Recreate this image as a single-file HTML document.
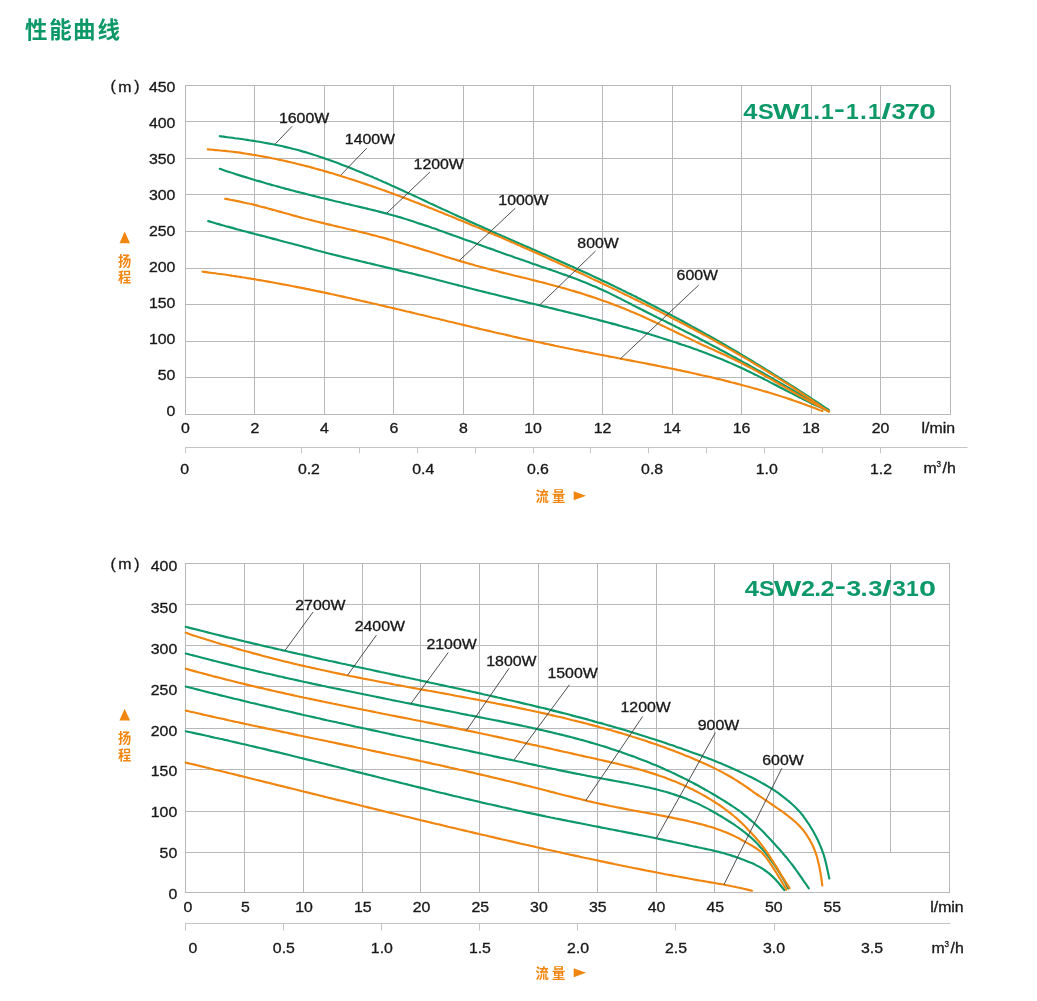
<!DOCTYPE html>
<html><head><meta charset="utf-8"><title>性能曲线</title>
<style>html,body{margin:0;padding:0;background:#fff}svg{display:block}</style></head>
<body>
<svg style="will-change:transform" width="1037" height="1001" viewBox="0 0 1037 1001" font-family='"Liberation Sans", "Noto Sans CJK SC", sans-serif'>
<rect width="1037" height="1001" fill="#fff"/>
<text x="25.1 49.3 72.9 97.4" y="37.5" font-size="22.5" font-weight="bold" fill="#0d9868">性能曲线</text>
<g stroke="#b8b8b8" stroke-width="1" fill="none"><path d="M185.5 85.0V415.0"/><path d="M254.5 85.0V415.0"/><path d="M324.5 85.0V415.0"/><path d="M393.5 85.0V415.0"/><path d="M463.5 85.0V415.0"/><path d="M533.5 85.0V415.0"/><path d="M602.5 85.0V415.0"/><path d="M672.5 85.0V415.0"/><path d="M741.5 85.0V415.0"/><path d="M811.5 85.0V415.0"/><path d="M880.5 85.0V415.0"/><path d="M950.5 85.0V415.0"/><path d="M185.0 85.5H951.0"/><path d="M185.0 121.5H951.0"/><path d="M185.0 158.5H951.0"/><path d="M185.0 194.5H951.0"/><path d="M185.0 231.5H951.0"/><path d="M185.0 268.5H951.0"/><path d="M185.0 304.5H951.0"/><path d="M185.0 341.5H951.0"/><path d="M185.0 377.5H951.0"/><path d="M185.0 414.5H951.0"/></g>
<text transform="translate(175.40 91.90) scale(1.1500 1)" font-size="13.80" text-anchor="end" fill="#181818" stroke="#181818" stroke-width="0.3" font-weight="normal">450</text>
<text transform="translate(175.40 127.95) scale(1.1500 1)" font-size="13.80" text-anchor="end" fill="#181818" stroke="#181818" stroke-width="0.3" font-weight="normal">400</text>
<text transform="translate(175.40 164.00) scale(1.1500 1)" font-size="13.80" text-anchor="end" fill="#181818" stroke="#181818" stroke-width="0.3" font-weight="normal">350</text>
<text transform="translate(175.40 200.05) scale(1.1500 1)" font-size="13.80" text-anchor="end" fill="#181818" stroke="#181818" stroke-width="0.3" font-weight="normal">300</text>
<text transform="translate(175.40 236.10) scale(1.1500 1)" font-size="13.80" text-anchor="end" fill="#181818" stroke="#181818" stroke-width="0.3" font-weight="normal">250</text>
<text transform="translate(175.40 272.15) scale(1.1500 1)" font-size="13.80" text-anchor="end" fill="#181818" stroke="#181818" stroke-width="0.3" font-weight="normal">200</text>
<text transform="translate(175.40 308.20) scale(1.1500 1)" font-size="13.80" text-anchor="end" fill="#181818" stroke="#181818" stroke-width="0.3" font-weight="normal">150</text>
<text transform="translate(175.40 344.25) scale(1.1500 1)" font-size="13.80" text-anchor="end" fill="#181818" stroke="#181818" stroke-width="0.3" font-weight="normal">100</text>
<text transform="translate(175.40 380.30) scale(1.1500 1)" font-size="13.80" text-anchor="end" fill="#181818" stroke="#181818" stroke-width="0.3" font-weight="normal">50</text>
<text transform="translate(175.40 416.35) scale(1.1500 1)" font-size="13.80" text-anchor="end" fill="#181818" stroke="#181818" stroke-width="0.3" font-weight="normal">0</text>
<text transform="translate(110.50 91.20) scale(1.1500 1)" font-size="13.80" text-anchor="start" fill="#181818" stroke="#181818" stroke-width="0.3" font-weight="normal">(</text>
<text transform="translate(118.30 91.50) scale(1.1500 1)" font-size="13.80" text-anchor="start" fill="#181818" stroke="#181818" stroke-width="0.3" font-weight="normal">m</text>
<text transform="translate(134.30 91.20) scale(1.1500 1)" font-size="13.80" text-anchor="start" fill="#181818" stroke="#181818" stroke-width="0.3" font-weight="normal">)</text>
<text transform="translate(185.40 433.00) scale(1.1500 1)" font-size="13.80" text-anchor="middle" fill="#181818" stroke="#181818" stroke-width="0.3" font-weight="normal">0</text>
<text transform="translate(254.92 433.00) scale(1.1500 1)" font-size="13.80" text-anchor="middle" fill="#181818" stroke="#181818" stroke-width="0.3" font-weight="normal">2</text>
<text transform="translate(324.44 433.00) scale(1.1500 1)" font-size="13.80" text-anchor="middle" fill="#181818" stroke="#181818" stroke-width="0.3" font-weight="normal">4</text>
<text transform="translate(393.96 433.00) scale(1.1500 1)" font-size="13.80" text-anchor="middle" fill="#181818" stroke="#181818" stroke-width="0.3" font-weight="normal">6</text>
<text transform="translate(463.48 433.00) scale(1.1500 1)" font-size="13.80" text-anchor="middle" fill="#181818" stroke="#181818" stroke-width="0.3" font-weight="normal">8</text>
<text transform="translate(533.00 433.00) scale(1.1500 1)" font-size="13.80" text-anchor="middle" fill="#181818" stroke="#181818" stroke-width="0.3" font-weight="normal">10</text>
<text transform="translate(602.52 433.00) scale(1.1500 1)" font-size="13.80" text-anchor="middle" fill="#181818" stroke="#181818" stroke-width="0.3" font-weight="normal">12</text>
<text transform="translate(672.04 433.00) scale(1.1500 1)" font-size="13.80" text-anchor="middle" fill="#181818" stroke="#181818" stroke-width="0.3" font-weight="normal">14</text>
<text transform="translate(741.56 433.00) scale(1.1500 1)" font-size="13.80" text-anchor="middle" fill="#181818" stroke="#181818" stroke-width="0.3" font-weight="normal">16</text>
<text transform="translate(811.08 433.00) scale(1.1500 1)" font-size="13.80" text-anchor="middle" fill="#181818" stroke="#181818" stroke-width="0.3" font-weight="normal">18</text>
<text transform="translate(880.60 433.00) scale(1.1500 1)" font-size="13.80" text-anchor="middle" fill="#181818" stroke="#181818" stroke-width="0.3" font-weight="normal">20</text>
<text transform="translate(921.50 433.00) scale(1.1500 1)" font-size="13.80" text-anchor="start" fill="#181818" stroke="#181818" stroke-width="0.3" font-weight="normal">l/min</text>
<g stroke="#c4c4c4" stroke-width="1" fill="none"><path d="M185 447.5H967.5"/>
<path d="M185.5 447.5V453.2"/>
<path d="M301.5 447.5V453.2"/>
<path d="M359.5 447.5V453.2"/>
<path d="M417.5 447.5V453.2"/>
<path d="M475.5 447.5V453.2"/>
<path d="M533.5 447.5V453.2"/>
<path d="M590.5 447.5V453.2"/>
<path d="M648.5 447.5V453.2"/>
<path d="M706.5 447.5V453.2"/>
<path d="M764.5 447.5V453.2"/>
<path d="M822.5 447.5V453.2"/>
<path d="M880.5 447.5V453.2"/>
</g>
<text transform="translate(184.70 473.80) scale(1.1500 1)" font-size="13.80" text-anchor="middle" fill="#181818" stroke="#181818" stroke-width="0.3" font-weight="normal">0</text>
<text transform="translate(308.90 473.80) scale(1.1500 1)" font-size="13.80" text-anchor="middle" fill="#181818" stroke="#181818" stroke-width="0.3" font-weight="normal">0.2</text>
<text transform="translate(423.30 473.80) scale(1.1500 1)" font-size="13.80" text-anchor="middle" fill="#181818" stroke="#181818" stroke-width="0.3" font-weight="normal">0.4</text>
<text transform="translate(537.90 473.80) scale(1.1500 1)" font-size="13.80" text-anchor="middle" fill="#181818" stroke="#181818" stroke-width="0.3" font-weight="normal">0.6</text>
<text transform="translate(652.10 473.80) scale(1.1500 1)" font-size="13.80" text-anchor="middle" fill="#181818" stroke="#181818" stroke-width="0.3" font-weight="normal">0.8</text>
<text transform="translate(766.80 473.80) scale(1.1500 1)" font-size="13.80" text-anchor="middle" fill="#181818" stroke="#181818" stroke-width="0.3" font-weight="normal">1.0</text>
<text transform="translate(881.00 473.80) scale(1.1500 1)" font-size="13.80" text-anchor="middle" fill="#181818" stroke="#181818" stroke-width="0.3" font-weight="normal">1.2</text>
<text transform="translate(923.50 473.40) scale(1.1500 1)" font-size="13.80" text-anchor="start" fill="#181818" stroke="#181818" stroke-width="0.3" font-weight="normal">m</text>
<text transform="translate(936.50 466.60) scale(0.9500 1)" font-size="8.60" text-anchor="start" fill="#181818" stroke="#181818" stroke-width="0.3" font-weight="normal">3</text>
<text transform="translate(942.50 473.40) scale(1.1500 1)" font-size="13.80" text-anchor="start" fill="#181818" stroke="#181818" stroke-width="0.3" font-weight="normal">/h</text>
<text x="535.4 552.1" y="500.8" font-size="13.3" font-weight="bold" fill="#f0860f">流量</text>
<path d="M573.7 491.2L586 495.7L573.7 500.2Z" fill="#f0860f"/>
<path d="M124.7 231.4L130 243.3H119.5Z" fill="#f0860f"/>
<text x="118 118" y="265.8 282.4" font-size="13.2" font-weight="bold" fill="#f0860f">扬程</text>
<path d="M219.8 136.2C220.6 136.3 223.1 136.7 224.8 136.9C226.4 137.1 228.1 137.3 229.7 137.5C231.4 137.7 233.0 137.9 234.7 138.2C236.3 138.4 238.0 138.6 239.6 138.8C241.3 139.1 242.9 139.3 244.6 139.5C246.2 139.8 247.9 140.0 249.5 140.3C251.2 140.5 252.8 140.8 254.5 141.0C256.1 141.3 257.8 141.6 259.4 141.8C261.0 142.1 262.7 142.4 264.3 142.7C266.0 143.0 267.6 143.3 269.2 143.6C270.9 143.9 272.5 144.2 274.2 144.5C275.8 144.9 277.4 145.2 279.1 145.5C280.7 145.9 282.3 146.2 283.9 146.6C285.6 147.0 287.2 147.4 288.8 147.7C290.4 148.1 292.0 148.5 293.7 149.0C295.3 149.4 296.9 149.8 298.5 150.2C300.1 150.7 301.7 151.1 303.3 151.6C304.9 152.0 306.5 152.5 308.1 153.0C309.7 153.5 311.3 154.0 312.9 154.5C314.5 155.0 316.1 155.5 317.6 156.0C319.2 156.5 320.8 157.0 322.4 157.6C324.0 158.1 325.5 158.7 327.1 159.2C328.7 159.8 330.3 160.3 331.8 160.9C333.4 161.5 334.9 162.0 336.5 162.6C338.1 163.2 339.6 163.8 341.2 164.4C342.7 165.0 344.3 165.6 345.9 166.2C347.4 166.8 349.0 167.4 350.5 168.0C352.1 168.6 353.6 169.2 355.1 169.9C356.7 170.5 358.2 171.1 359.8 171.8C361.3 172.4 362.9 173.0 364.4 173.7C365.9 174.3 367.5 175.0 369.0 175.6C370.5 176.3 372.1 176.9 373.6 177.6C375.1 178.3 376.7 178.9 378.2 179.6C379.7 180.3 381.2 180.9 382.8 181.6C384.3 182.3 385.8 182.9 387.3 183.6C388.9 184.3 390.4 185.0 391.9 185.7C393.4 186.3 394.9 187.0 396.5 187.7C398.0 188.4 399.5 189.1 401.0 189.8C402.5 190.5 404.0 191.2 405.6 191.9C407.1 192.6 408.6 193.2 410.1 193.9C411.6 194.6 413.1 195.3 414.6 196.0C416.2 196.7 417.7 197.4 419.2 198.1C420.7 198.8 422.2 199.5 423.7 200.2C425.2 200.9 426.7 201.6 428.2 202.4C429.8 203.1 431.3 203.8 432.8 204.5C434.3 205.2 435.8 205.9 437.3 206.6C438.8 207.3 440.3 208.0 441.8 208.7C443.4 209.4 444.9 210.1 446.4 210.8C447.9 211.5 449.4 212.2 450.9 212.9C452.4 213.6 453.9 214.3 455.5 215.0C457.0 215.7 458.5 216.4 460.0 217.0C461.5 217.7 463.0 218.4 464.6 219.1C466.1 219.8 467.6 220.5 469.1 221.2C470.6 221.9 472.2 222.6 473.7 223.2C475.2 223.9 476.7 224.6 478.2 225.3C479.8 226.0 481.3 226.6 482.8 227.3C484.3 228.0 485.8 228.7 487.4 229.3C488.9 230.0 490.4 230.7 491.9 231.4C493.5 232.0 495.0 232.7 496.5 233.4C498.0 234.1 499.6 234.7 501.1 235.4C502.6 236.1 504.2 236.7 505.7 237.4C507.2 238.1 508.7 238.7 510.3 239.4C511.8 240.1 513.3 240.7 514.8 241.4C516.4 242.1 517.9 242.7 519.4 243.4C521.0 244.1 522.5 244.7 524.0 245.4C525.5 246.1 527.1 246.7 528.6 247.4C530.1 248.1 531.6 248.7 533.2 249.4C534.7 250.1 536.2 250.7 537.8 251.4C539.3 252.1 540.8 252.7 542.3 253.4C543.9 254.1 545.4 254.8 546.9 255.4C548.4 256.1 550.0 256.8 551.5 257.4C553.0 258.1 554.5 258.8 556.1 259.5C557.6 260.1 559.1 260.8 560.6 261.5C562.2 262.2 563.7 262.8 565.2 263.5C566.7 264.2 568.2 264.9 569.8 265.6C571.3 266.3 572.8 266.9 574.3 267.6C575.8 268.3 577.4 269.0 578.9 269.7C580.4 270.4 581.9 271.1 583.4 271.8C584.9 272.4 586.5 273.1 588.0 273.8C589.5 274.5 591.0 275.2 592.5 275.9C594.0 276.6 595.5 277.3 597.0 278.0C598.6 278.7 600.1 279.5 601.6 280.2C603.1 280.9 604.6 281.6 606.1 282.3C607.6 283.0 609.1 283.7 610.6 284.5C612.1 285.2 613.6 285.9 615.1 286.6C616.6 287.3 618.1 288.1 619.6 288.8C621.1 289.5 622.6 290.3 624.1 291.0C625.6 291.7 627.1 292.5 628.6 293.2C630.1 293.9 631.6 294.7 633.1 295.4C634.6 296.2 636.1 296.9 637.5 297.7C639.0 298.4 640.5 299.2 642.0 299.9C643.5 300.7 645.0 301.4 646.5 302.2C647.9 302.9 649.4 303.7 650.9 304.5C652.4 305.2 653.9 306.0 655.4 306.7C656.8 307.5 658.3 308.3 659.8 309.1C661.3 309.8 662.7 310.6 664.2 311.4C665.7 312.1 667.2 312.9 668.6 313.7C670.1 314.5 671.6 315.3 673.1 316.1C674.5 316.8 676.0 317.6 677.5 318.4C678.9 319.2 680.4 320.0 681.9 320.8C683.3 321.6 684.8 322.4 686.3 323.2C687.7 324.0 689.2 324.8 690.6 325.6C692.1 326.4 693.6 327.2 695.0 328.0C696.5 328.8 697.9 329.6 699.4 330.4C700.9 331.2 702.3 332.0 703.8 332.9C705.2 333.7 706.7 334.5 708.1 335.3C709.6 336.1 711.0 337.0 712.5 337.8C713.9 338.6 715.4 339.4 716.8 340.3C718.3 341.1 719.7 341.9 721.1 342.7C722.6 343.6 724.0 344.4 725.5 345.2C726.9 346.1 728.4 346.9 729.8 347.8C731.2 348.6 732.7 349.4 734.1 350.3C735.5 351.1 737.0 352.0 738.4 352.8C739.9 353.7 741.3 354.5 742.7 355.4C744.1 356.2 745.6 357.1 747.0 358.0C748.4 358.8 749.9 359.7 751.3 360.5C752.7 361.4 754.1 362.3 755.6 363.1C757.0 364.0 758.4 364.9 759.8 365.7C761.3 366.6 762.7 367.5 764.1 368.3C765.5 369.2 766.9 370.1 768.4 371.0C769.8 371.8 771.2 372.7 772.6 373.6C774.0 374.5 775.4 375.4 776.8 376.2C778.3 377.1 779.7 378.0 781.1 378.9C782.5 379.8 783.9 380.7 785.3 381.6C786.7 382.5 788.1 383.4 789.5 384.3C790.9 385.2 792.3 386.1 793.7 387.0C795.1 387.9 796.5 388.8 797.9 389.7C799.3 390.6 800.7 391.5 802.1 392.4C803.5 393.3 804.9 394.2 806.3 395.1C807.7 396.0 809.1 396.9 810.5 397.8C811.9 398.8 813.3 399.7 814.7 400.6C816.1 401.5 817.5 402.4 818.9 403.4C820.2 404.3 821.6 405.2 823.0 406.1C824.4 407.1 826.2 408.3 827.2 408.9C828.1 409.6 828.6 409.8 828.8 410.0" fill="none" stroke="#0d9868" stroke-width="2.15" stroke-linecap="round"/>
<path d="M219.8 168.8C220.6 169.1 223.0 169.9 224.5 170.4C226.1 171.0 227.7 171.5 229.3 172.0C230.9 172.5 232.5 173.0 234.0 173.5C235.6 174.1 237.2 174.6 238.8 175.1C240.4 175.6 242.0 176.1 243.6 176.6C245.2 177.1 246.8 177.6 248.3 178.0C249.9 178.5 251.5 179.0 253.1 179.5C254.7 180.0 256.3 180.4 257.9 180.9C259.5 181.4 261.1 181.9 262.7 182.3C264.3 182.8 265.9 183.2 267.5 183.7C269.1 184.2 270.7 184.6 272.3 185.1C273.9 185.5 275.6 185.9 277.2 186.4C278.8 186.8 280.4 187.3 282.0 187.7C283.6 188.1 285.2 188.6 286.8 189.0C288.4 189.4 290.0 189.9 291.6 190.3C293.3 190.7 294.9 191.1 296.5 191.6C298.1 192.0 299.7 192.4 301.3 192.8C302.9 193.2 304.6 193.6 306.2 194.0C307.8 194.4 309.4 194.8 311.0 195.3C312.6 195.7 314.3 196.1 315.9 196.5C317.5 196.9 319.1 197.3 320.7 197.7C322.3 198.0 324.0 198.4 325.6 198.8C327.2 199.2 328.8 199.6 330.4 200.0C332.1 200.4 333.7 200.8 335.3 201.2C336.9 201.6 338.6 201.9 340.2 202.3C341.8 202.7 343.4 203.1 345.0 203.5C346.7 203.9 348.3 204.2 349.9 204.6C351.5 205.0 353.2 205.4 354.8 205.8C356.4 206.1 358.0 206.5 359.6 206.9C361.3 207.3 362.9 207.7 364.5 208.0C366.1 208.4 367.8 208.8 369.4 209.2C371.0 209.6 372.6 210.0 374.2 210.4C375.8 210.8 377.5 211.2 379.1 211.6C380.7 212.0 382.3 212.4 383.9 212.9C385.5 213.3 387.1 213.7 388.8 214.2C390.4 214.6 392.0 215.0 393.6 215.5C395.2 215.9 396.8 216.4 398.4 216.9C400.0 217.3 401.6 217.8 403.2 218.3C404.8 218.8 406.4 219.3 407.9 219.8C409.5 220.3 411.1 220.8 412.7 221.3C414.3 221.8 415.9 222.3 417.5 222.9C419.0 223.4 420.6 223.9 422.2 224.4C423.8 225.0 425.4 225.5 426.9 226.0C428.5 226.6 430.1 227.1 431.7 227.7C433.2 228.2 434.8 228.8 436.4 229.3C438.0 229.9 439.5 230.4 441.1 231.0C442.7 231.6 444.2 232.1 445.8 232.7C447.4 233.2 448.9 233.8 450.5 234.4C452.1 234.9 453.6 235.5 455.2 236.0C456.8 236.6 458.4 237.2 459.9 237.7C461.5 238.3 463.1 238.9 464.6 239.4C466.2 240.0 467.8 240.6 469.3 241.1C470.9 241.7 472.5 242.3 474.0 242.8C475.6 243.4 477.2 244.0 478.7 244.5C480.3 245.1 481.9 245.7 483.4 246.2C485.0 246.8 486.6 247.4 488.1 247.9C489.7 248.5 491.3 249.0 492.8 249.6C494.4 250.2 496.0 250.7 497.6 251.3C499.1 251.9 500.7 252.4 502.3 253.0C503.8 253.5 505.4 254.1 507.0 254.7C508.5 255.2 510.1 255.8 511.7 256.3C513.3 256.9 514.8 257.4 516.4 258.0C518.0 258.5 519.5 259.1 521.1 259.6C522.7 260.2 524.3 260.7 525.8 261.3C527.4 261.8 529.0 262.4 530.6 262.9C532.1 263.5 533.7 264.0 535.3 264.5C536.9 265.1 538.5 265.6 540.0 266.2C541.6 266.7 543.2 267.2 544.8 267.8C546.3 268.3 547.9 268.9 549.5 269.4C551.1 269.9 552.6 270.5 554.2 271.0C555.8 271.6 557.4 272.1 558.9 272.7C560.5 273.2 562.1 273.8 563.6 274.4C565.2 274.9 566.8 275.5 568.3 276.1C569.9 276.6 571.5 277.2 573.0 277.8C574.6 278.4 576.2 279.0 577.7 279.6C579.3 280.2 580.8 280.8 582.4 281.4C583.9 282.0 585.5 282.6 587.0 283.2C588.6 283.9 590.1 284.5 591.6 285.2C593.2 285.8 594.7 286.5 596.2 287.1C597.7 287.8 599.3 288.5 600.8 289.2C602.3 289.9 603.8 290.6 605.3 291.3C606.8 292.0 608.3 292.7 609.8 293.4C611.3 294.2 612.8 294.9 614.3 295.6C615.8 296.4 617.3 297.1 618.8 297.9C620.3 298.6 621.8 299.4 623.2 300.1C624.7 300.9 626.2 301.7 627.7 302.4C629.2 303.2 630.7 303.9 632.1 304.7C633.6 305.5 635.1 306.2 636.6 307.0C638.1 307.7 639.6 308.5 641.1 309.3C642.5 310.0 644.0 310.8 645.5 311.5C647.0 312.3 648.5 313.0 650.0 313.7C651.5 314.5 653.0 315.2 654.5 316.0C656.0 316.7 657.4 317.5 658.9 318.2C660.4 319.0 661.9 319.7 663.4 320.4C664.9 321.2 666.4 321.9 667.9 322.7C669.4 323.4 670.9 324.2 672.4 324.9C673.9 325.6 675.3 326.4 676.8 327.1C678.3 327.9 679.8 328.6 681.3 329.4C682.8 330.1 684.3 330.9 685.8 331.7C687.2 332.4 688.7 333.2 690.2 333.9C691.7 334.7 693.2 335.4 694.7 336.2C696.1 337.0 697.6 337.7 699.1 338.5C700.6 339.3 702.1 340.0 703.5 340.8C705.0 341.6 706.5 342.4 708.0 343.1C709.4 343.9 710.9 344.7 712.4 345.5C713.9 346.2 715.3 347.0 716.8 347.8C718.3 348.6 719.7 349.4 721.2 350.2C722.7 350.9 724.2 351.7 725.6 352.5C727.1 353.3 728.6 354.1 730.0 354.9C731.5 355.7 732.9 356.5 734.4 357.3C735.9 358.1 737.3 358.9 738.8 359.7C740.3 360.5 741.7 361.3 743.2 362.1C744.6 362.9 746.1 363.7 747.6 364.5C749.0 365.3 750.5 366.1 751.9 366.9C753.4 367.8 754.8 368.6 756.3 369.4C757.7 370.2 759.2 371.0 760.7 371.8C762.1 372.6 763.6 373.5 765.0 374.3C766.5 375.1 767.9 375.9 769.4 376.7C770.8 377.6 772.3 378.4 773.7 379.2C775.2 380.0 776.6 380.9 778.0 381.7C779.5 382.5 780.9 383.4 782.4 384.2C783.8 385.0 785.3 385.9 786.7 386.7C788.2 387.5 789.6 388.4 791.0 389.2C792.5 390.0 793.9 390.9 795.4 391.7C796.8 392.5 798.2 393.4 799.7 394.2C801.1 395.1 802.6 395.9 804.0 396.7C805.4 397.6 806.9 398.4 808.3 399.3C809.8 400.1 811.2 401.0 812.6 401.8C814.1 402.6 815.5 403.5 817.0 404.3C818.4 405.1 819.8 406.0 821.3 406.8C822.7 407.6 824.4 408.5 825.7 409.2C826.9 409.9 828.2 410.6 828.7 410.9" fill="none" stroke="#0d9868" stroke-width="2.15" stroke-linecap="round"/>
<path d="M208.2 221.1C209.0 221.3 211.4 222.0 213.0 222.5C214.6 223.0 216.2 223.4 217.8 223.9C219.4 224.4 221.0 224.8 222.6 225.3C224.2 225.7 225.8 226.2 227.4 226.6C229.0 227.1 230.6 227.5 232.2 227.9C233.8 228.4 235.5 228.8 237.1 229.3C238.7 229.7 240.3 230.1 241.9 230.6C243.5 231.0 245.1 231.4 246.7 231.8C248.3 232.3 249.9 232.7 251.6 233.1C253.2 233.5 254.8 234.0 256.4 234.4C258.0 234.8 259.6 235.2 261.2 235.6C262.9 236.0 264.5 236.5 266.1 236.9C267.7 237.3 269.3 237.7 270.9 238.1C272.5 238.6 274.1 239.0 275.8 239.4C277.4 239.8 279.0 240.3 280.6 240.7C282.2 241.1 283.8 241.5 285.4 242.0C287.0 242.4 288.6 242.8 290.3 243.2C291.9 243.7 293.5 244.1 295.1 244.5C296.7 245.0 298.3 245.4 299.9 245.8C301.5 246.3 303.1 246.7 304.7 247.1C306.4 247.5 308.0 248.0 309.6 248.4C311.2 248.8 312.8 249.3 314.4 249.7C316.0 250.1 317.6 250.5 319.2 251.0C320.9 251.4 322.5 251.8 324.1 252.2C325.7 252.6 327.3 253.0 328.9 253.5C330.5 253.9 332.2 254.3 333.8 254.7C335.4 255.1 337.0 255.5 338.6 255.9C340.2 256.3 341.9 256.7 343.5 257.1C345.1 257.5 346.7 257.9 348.3 258.3C350.0 258.7 351.6 259.1 353.2 259.5C354.8 259.9 356.4 260.2 358.1 260.6C359.7 261.0 361.3 261.4 362.9 261.8C364.5 262.2 366.2 262.6 367.8 263.0C369.4 263.3 371.0 263.7 372.7 264.1C374.3 264.5 375.9 264.9 377.5 265.3C379.1 265.6 380.8 266.0 382.4 266.4C384.0 266.8 385.6 267.2 387.2 267.6C388.9 268.0 390.5 268.3 392.1 268.7C393.7 269.1 395.4 269.5 397.0 269.9C398.6 270.3 400.2 270.7 401.8 271.1C403.5 271.4 405.1 271.8 406.7 272.2C408.3 272.6 409.9 273.0 411.6 273.4C413.2 273.8 414.8 274.2 416.4 274.6C418.0 275.0 419.6 275.4 421.3 275.8C422.9 276.2 424.5 276.6 426.1 277.0C427.7 277.4 429.3 277.8 431.0 278.2C432.6 278.7 434.2 279.1 435.8 279.5C437.4 279.9 439.0 280.3 440.6 280.7C442.3 281.2 443.9 281.6 445.5 282.0C447.1 282.4 448.7 282.8 450.3 283.3C451.9 283.7 453.5 284.1 455.2 284.5C456.8 284.9 458.4 285.4 460.0 285.8C461.6 286.2 463.2 286.6 464.8 287.0C466.5 287.4 468.1 287.9 469.7 288.3C471.3 288.7 472.9 289.1 474.5 289.5C476.1 289.9 477.8 290.3 479.4 290.7C481.0 291.1 482.6 291.5 484.2 291.9C485.8 292.3 487.5 292.7 489.1 293.1C490.7 293.5 492.3 293.9 493.9 294.3C495.6 294.7 497.2 295.1 498.8 295.5C500.4 295.9 502.0 296.3 503.7 296.7C505.3 297.1 506.9 297.5 508.5 297.9C510.1 298.3 511.8 298.7 513.4 299.0C515.0 299.4 516.6 299.8 518.2 300.2C519.9 300.6 521.5 301.0 523.1 301.4C524.7 301.8 526.3 302.2 528.0 302.6C529.6 302.9 531.2 303.3 532.8 303.7C534.4 304.1 536.1 304.5 537.7 304.9C539.3 305.3 540.9 305.7 542.5 306.1C544.2 306.5 545.8 306.8 547.4 307.2C549.0 307.6 550.6 308.0 552.3 308.4C553.9 308.8 555.5 309.2 557.1 309.6C558.7 310.0 560.4 310.4 562.0 310.8C563.6 311.2 565.2 311.6 566.8 312.0C568.4 312.4 570.1 312.8 571.7 313.2C573.3 313.6 574.9 314.0 576.5 314.4C578.2 314.8 579.8 315.2 581.4 315.6C583.0 316.0 584.6 316.4 586.2 316.8C587.8 317.2 589.5 317.7 591.1 318.1C592.7 318.5 594.3 318.9 595.9 319.3C597.5 319.7 599.1 320.2 600.8 320.6C602.4 321.0 604.0 321.4 605.6 321.9C607.2 322.3 608.8 322.7 610.4 323.1C612.0 323.6 613.6 324.0 615.3 324.4C616.9 324.9 618.5 325.3 620.1 325.8C621.7 326.2 623.3 326.7 624.9 327.1C626.5 327.5 628.1 328.0 629.7 328.5C631.3 328.9 632.9 329.4 634.5 329.8C636.1 330.3 637.7 330.7 639.3 331.2C640.9 331.7 642.5 332.1 644.1 332.6C645.7 333.1 647.3 333.6 648.9 334.0C650.5 334.5 652.1 335.0 653.7 335.5C655.3 336.0 656.9 336.5 658.5 337.0C660.1 337.5 661.7 338.0 663.2 338.5C664.8 339.0 666.4 339.5 668.0 340.0C669.6 340.5 671.2 341.0 672.8 341.5C674.4 342.0 675.9 342.5 677.5 343.1C679.1 343.6 680.7 344.1 682.3 344.7C683.8 345.2 685.4 345.7 687.0 346.3C688.6 346.8 690.1 347.4 691.7 347.9C693.3 348.5 694.8 349.0 696.4 349.6C698.0 350.2 699.5 350.7 701.1 351.3C702.7 351.9 704.2 352.5 705.8 353.1C707.4 353.7 708.9 354.3 710.5 354.9C712.0 355.5 713.6 356.1 715.1 356.7C716.7 357.3 718.2 357.9 719.8 358.6C721.3 359.2 722.8 359.8 724.4 360.5C725.9 361.1 727.4 361.8 729.0 362.4C730.5 363.1 732.0 363.8 733.6 364.4C735.1 365.1 736.6 365.8 738.1 366.5C739.6 367.2 741.2 367.9 742.7 368.6C744.2 369.3 745.7 370.0 747.2 370.7C748.7 371.4 750.2 372.2 751.7 372.9C753.2 373.6 754.7 374.4 756.2 375.1C757.7 375.8 759.2 376.6 760.6 377.3C762.1 378.1 763.6 378.8 765.1 379.6C766.6 380.3 768.1 381.1 769.5 381.9C771.0 382.6 772.5 383.4 774.0 384.2C775.5 384.9 777.0 385.7 778.4 386.5C779.9 387.2 781.4 388.0 782.9 388.8C784.4 389.5 785.8 390.3 787.3 391.1C788.8 391.8 790.3 392.6 791.8 393.4C793.2 394.1 794.7 394.9 796.2 395.6C797.7 396.4 799.2 397.1 800.7 397.9C802.2 398.6 803.6 399.4 805.1 400.1C806.6 400.9 808.1 401.6 809.6 402.3C811.1 403.1 812.6 403.8 814.1 404.5C815.6 405.2 817.1 405.9 818.6 406.6C820.2 407.3 821.7 408.0 823.2 408.7C824.7 409.4 826.8 410.4 827.8 410.8C828.7 411.2 828.5 411.1 828.7 411.2" fill="none" stroke="#0d9868" stroke-width="2.15" stroke-linecap="round"/>
<path d="M207.8 149.4C208.6 149.4 211.1 149.6 212.8 149.8C214.4 149.9 216.1 150.0 217.8 150.2C219.4 150.4 221.1 150.5 222.7 150.7C224.4 150.9 226.1 151.0 227.7 151.2C229.4 151.4 231.0 151.6 232.7 151.8C234.3 152.0 236.0 152.2 237.6 152.4C239.3 152.7 240.9 152.9 242.6 153.1C244.2 153.4 245.9 153.6 247.5 153.9C249.2 154.1 250.8 154.4 252.5 154.7C254.1 154.9 255.8 155.2 257.4 155.5C259.0 155.8 260.7 156.1 262.3 156.4C264.0 156.7 265.6 157.0 267.2 157.3C268.9 157.6 270.5 157.9 272.1 158.3C273.8 158.6 275.4 158.9 277.0 159.3C278.7 159.6 280.3 160.0 281.9 160.3C283.6 160.7 285.2 161.0 286.8 161.4C288.4 161.8 290.1 162.1 291.7 162.5C293.3 162.9 294.9 163.3 296.5 163.7C298.2 164.1 299.8 164.5 301.4 164.9C303.0 165.3 304.6 165.7 306.2 166.1C307.9 166.5 309.5 167.0 311.1 167.4C312.7 167.8 314.3 168.3 315.9 168.7C317.5 169.1 319.1 169.6 320.7 170.0C322.3 170.5 323.9 170.9 325.5 171.4C327.1 171.9 328.7 172.3 330.3 172.8C331.9 173.3 333.5 173.8 335.1 174.2C336.7 174.7 338.3 175.2 339.9 175.7C341.5 176.2 343.1 176.7 344.7 177.2C346.3 177.7 347.9 178.2 349.4 178.7C351.0 179.2 352.6 179.7 354.2 180.2C355.8 180.7 357.4 181.3 359.0 181.8C360.5 182.3 362.1 182.8 363.7 183.4C365.3 183.9 366.9 184.4 368.4 185.0C370.0 185.5 371.6 186.1 373.2 186.6C374.7 187.2 376.3 187.7 377.9 188.3C379.4 188.8 381.0 189.4 382.6 189.9C384.2 190.5 385.7 191.1 387.3 191.6C388.9 192.2 390.4 192.8 392.0 193.3C393.6 193.9 395.1 194.5 396.7 195.1C398.2 195.7 399.8 196.2 401.4 196.8C402.9 197.4 404.5 198.0 406.0 198.6C407.6 199.2 409.2 199.8 410.7 200.4C412.3 201.0 413.8 201.6 415.4 202.2C416.9 202.8 418.5 203.4 420.0 204.0C421.6 204.6 423.1 205.2 424.7 205.8C426.2 206.4 427.8 207.0 429.3 207.7C430.9 208.3 432.4 208.9 434.0 209.5C435.5 210.1 437.1 210.7 438.6 211.4C440.2 212.0 441.7 212.6 443.3 213.2C444.8 213.9 446.3 214.5 447.9 215.1C449.4 215.8 451.0 216.4 452.5 217.0C454.1 217.7 455.6 218.3 457.1 218.9C458.7 219.6 460.2 220.2 461.8 220.8C463.3 221.5 464.8 222.1 466.4 222.8C467.9 223.4 469.4 224.1 471.0 224.7C472.5 225.3 474.1 226.0 475.6 226.6C477.1 227.3 478.7 227.9 480.2 228.6C481.7 229.2 483.3 229.9 484.8 230.5C486.3 231.2 487.9 231.8 489.4 232.5C490.9 233.2 492.5 233.8 494.0 234.5C495.5 235.1 497.1 235.8 498.6 236.4C500.1 237.1 501.7 237.8 503.2 238.4C504.7 239.1 506.2 239.8 507.8 240.4C509.3 241.1 510.8 241.7 512.4 242.4C513.9 243.1 515.4 243.8 516.9 244.4C518.5 245.1 520.0 245.8 521.5 246.4C523.0 247.1 524.6 247.8 526.1 248.5C527.6 249.1 529.1 249.8 530.7 250.5C532.2 251.2 533.7 251.8 535.2 252.5C536.7 253.2 538.3 253.9 539.8 254.6C541.3 255.2 542.8 255.9 544.3 256.6C545.9 257.3 547.4 258.0 548.9 258.7C550.4 259.4 551.9 260.1 553.4 260.7C555.0 261.4 556.5 262.1 558.0 262.8C559.5 263.5 561.0 264.2 562.5 264.9C564.1 265.6 565.6 266.3 567.1 267.0C568.6 267.7 570.1 268.4 571.6 269.1C573.1 269.8 574.7 270.5 576.2 271.2C577.7 271.9 579.2 272.6 580.7 273.3C582.2 274.0 583.7 274.7 585.2 275.4C586.7 276.1 588.2 276.8 589.8 277.5C591.3 278.2 592.8 279.0 594.3 279.7C595.8 280.4 597.3 281.1 598.8 281.8C600.3 282.5 601.8 283.2 603.3 284.0C604.8 284.7 606.3 285.4 607.8 286.1C609.3 286.8 610.8 287.5 612.3 288.3C613.8 289.0 615.3 289.7 616.8 290.4C618.3 291.2 619.8 291.9 621.3 292.6C622.8 293.3 624.3 294.1 625.8 294.8C627.3 295.5 628.8 296.3 630.3 297.0C631.8 297.7 633.3 298.5 634.8 299.2C636.3 299.9 637.8 300.7 639.3 301.4C640.8 302.1 642.3 302.9 643.8 303.6C645.3 304.4 646.8 305.1 648.3 305.9C649.7 306.6 651.2 307.4 652.7 308.1C654.2 308.9 655.7 309.6 657.2 310.4C658.7 311.1 660.2 311.9 661.6 312.6C663.1 313.4 664.6 314.1 666.1 314.9C667.6 315.7 669.1 316.4 670.5 317.2C672.0 318.0 673.5 318.7 675.0 319.5C676.5 320.3 677.9 321.0 679.4 321.8C680.9 322.6 682.4 323.3 683.8 324.1C685.3 324.9 686.8 325.7 688.3 326.5C689.7 327.2 691.2 328.0 692.7 328.8C694.1 329.6 695.6 330.4 697.1 331.2C698.6 332.0 700.0 332.8 701.5 333.5C702.9 334.3 704.4 335.1 705.9 335.9C707.3 336.7 708.8 337.5 710.3 338.3C711.7 339.1 713.2 339.9 714.6 340.8C716.1 341.6 717.5 342.4 719.0 343.2C720.5 344.0 721.9 344.8 723.4 345.6C724.8 346.5 726.3 347.3 727.7 348.1C729.2 348.9 730.6 349.7 732.1 350.6C733.5 351.4 735.0 352.2 736.4 353.1C737.8 353.9 739.3 354.7 740.7 355.6C742.2 356.4 743.6 357.3 745.0 358.1C746.5 358.9 747.9 359.8 749.3 360.6C750.8 361.5 752.2 362.3 753.6 363.2C755.1 364.0 756.5 364.9 757.9 365.8C759.4 366.6 760.8 367.5 762.2 368.3C763.6 369.2 765.1 370.1 766.5 370.9C767.9 371.8 769.3 372.7 770.7 373.6C772.2 374.4 773.6 375.3 775.0 376.2C776.4 377.1 777.8 378.0 779.2 378.8C780.6 379.7 782.1 380.6 783.5 381.5C784.9 382.4 786.3 383.3 787.7 384.2C789.1 385.1 790.5 386.0 791.9 386.9C793.3 387.8 794.7 388.7 796.1 389.6C797.5 390.5 798.9 391.4 800.3 392.3C801.7 393.3 803.1 394.2 804.4 395.1C805.8 396.0 807.2 396.9 808.6 397.9C810.0 398.8 811.4 399.7 812.8 400.7C814.1 401.6 815.5 402.5 816.9 403.5C818.3 404.4 819.7 405.3 821.0 406.3C822.4 407.2 823.8 408.2 825.1 409.1C826.4 410.0 828.2 411.3 828.8 411.7" fill="none" stroke="#f0860f" stroke-width="2.15" stroke-linecap="round"/>
<path d="M225.2 198.9C226.0 199.0 228.5 199.4 230.1 199.7C231.8 200.0 233.4 200.3 235.0 200.6C236.7 200.9 238.3 201.3 239.9 201.6C241.6 201.9 243.2 202.3 244.8 202.7C246.5 203.0 248.1 203.4 249.7 203.8C251.3 204.1 252.9 204.5 254.6 204.9C256.2 205.3 257.8 205.7 259.4 206.2C261.0 206.6 262.6 207.0 264.3 207.4C265.9 207.8 267.5 208.3 269.1 208.7C270.7 209.1 272.3 209.6 273.9 210.0C275.5 210.5 277.1 210.9 278.7 211.4C280.3 211.8 281.9 212.2 283.5 212.7C285.2 213.1 286.8 213.6 288.4 214.0C290.0 214.5 291.6 214.9 293.2 215.4C294.8 215.8 296.4 216.2 298.0 216.7C299.6 217.1 301.2 217.6 302.8 218.0C304.4 218.4 306.1 218.8 307.7 219.3C309.3 219.7 310.9 220.1 312.5 220.5C314.1 220.9 315.7 221.3 317.4 221.7C319.0 222.1 320.6 222.5 322.2 222.9C323.8 223.3 325.5 223.7 327.1 224.1C328.7 224.5 330.3 224.8 331.9 225.2C333.6 225.6 335.2 226.0 336.8 226.4C338.4 226.8 340.1 227.1 341.7 227.5C343.3 227.9 344.9 228.3 346.5 228.7C348.2 229.0 349.8 229.4 351.4 229.8C353.0 230.2 354.7 230.6 356.3 231.0C357.9 231.3 359.5 231.7 361.1 232.1C362.8 232.5 364.4 232.9 366.0 233.3C367.6 233.7 369.2 234.1 370.8 234.6C372.5 235.0 374.1 235.4 375.7 235.8C377.3 236.2 378.9 236.7 380.5 237.1C382.1 237.6 383.7 238.0 385.3 238.4C386.9 238.9 388.5 239.3 390.1 239.8C391.7 240.3 393.3 240.7 394.9 241.2C396.5 241.6 398.1 242.1 399.7 242.6C401.3 243.1 402.9 243.5 404.5 244.0C406.1 244.5 407.7 245.0 409.3 245.5C410.9 245.9 412.5 246.4 414.1 246.9C415.7 247.4 417.3 247.9 418.9 248.4C420.5 248.9 422.1 249.4 423.7 249.9C425.3 250.3 426.8 250.8 428.4 251.3C430.0 251.8 431.6 252.3 433.2 252.8C434.8 253.3 436.4 253.8 438.0 254.3C439.6 254.8 441.2 255.3 442.8 255.8C444.4 256.3 446.0 256.7 447.5 257.2C449.1 257.7 450.7 258.2 452.3 258.7C453.9 259.2 455.5 259.7 457.1 260.1C458.7 260.6 460.3 261.1 461.9 261.6C463.5 262.0 465.1 262.5 466.7 263.0C468.3 263.4 469.9 263.9 471.5 264.3C473.1 264.8 474.7 265.2 476.3 265.7C477.9 266.1 479.5 266.6 481.2 267.0C482.8 267.5 484.4 267.9 486.0 268.3C487.6 268.7 489.2 269.2 490.8 269.6C492.4 270.0 494.0 270.4 495.7 270.8C497.3 271.2 498.9 271.6 500.5 272.1C502.1 272.5 503.7 272.9 505.4 273.3C507.0 273.7 508.6 274.1 510.2 274.5C511.8 274.9 513.4 275.3 515.1 275.7C516.7 276.1 518.3 276.5 519.9 276.9C521.5 277.3 523.2 277.6 524.8 278.0C526.4 278.4 528.0 278.8 529.6 279.2C531.2 279.6 532.9 280.1 534.5 280.5C536.1 280.9 537.7 281.3 539.3 281.7C540.9 282.1 542.6 282.5 544.2 282.9C545.8 283.3 547.4 283.8 549.0 284.2C550.6 284.6 552.2 285.0 553.8 285.5C555.5 285.9 557.1 286.3 558.7 286.8C560.3 287.2 561.9 287.7 563.5 288.1C565.1 288.6 566.7 289.0 568.3 289.5C569.9 290.0 571.5 290.4 573.1 290.9C574.7 291.4 576.3 291.9 577.9 292.4C579.5 292.8 581.1 293.3 582.6 293.8C584.2 294.3 585.8 294.8 587.4 295.4C589.0 295.9 590.6 296.4 592.2 296.9C593.7 297.4 595.3 298.0 596.9 298.5C598.5 299.1 600.1 299.6 601.6 300.2C603.2 300.7 604.8 301.3 606.3 301.8C607.9 302.4 609.5 303.0 611.0 303.6C612.6 304.1 614.1 304.7 615.7 305.3C617.3 305.9 618.8 306.5 620.4 307.1C621.9 307.7 623.5 308.4 625.0 309.0C626.6 309.6 628.1 310.2 629.6 310.9C631.2 311.5 632.7 312.2 634.2 312.8C635.8 313.5 637.3 314.1 638.8 314.8C640.4 315.5 641.9 316.1 643.4 316.8C644.9 317.5 646.4 318.2 648.0 318.9C649.5 319.6 651.0 320.3 652.5 321.0C654.0 321.7 655.5 322.4 657.0 323.1C658.5 323.8 660.0 324.5 661.5 325.3C663.0 326.0 664.5 326.7 666.0 327.4C667.5 328.1 669.0 328.9 670.5 329.6C672.1 330.3 673.6 331.0 675.1 331.8C676.6 332.5 678.0 333.2 679.6 334.0C681.1 334.7 682.6 335.4 684.1 336.1C685.6 336.9 687.1 337.6 688.6 338.3C690.1 339.0 691.6 339.7 693.1 340.4C694.6 341.2 696.1 341.9 697.6 342.6C699.1 343.3 700.6 344.0 702.1 344.7C703.6 345.4 705.2 346.1 706.7 346.8C708.2 347.5 709.7 348.2 711.2 348.8C712.7 349.5 714.3 350.2 715.8 350.9C717.3 351.6 718.8 352.3 720.3 353.0C721.8 353.7 723.4 354.4 724.9 355.1C726.4 355.8 727.9 356.5 729.4 357.2C730.9 357.9 732.4 358.6 733.9 359.3C735.4 360.1 736.9 360.8 738.4 361.5C739.9 362.3 741.4 363.0 742.9 363.8C744.4 364.5 745.8 365.3 747.3 366.1C748.8 366.9 750.3 367.6 751.7 368.4C753.2 369.2 754.7 370.0 756.1 370.8C757.6 371.6 759.0 372.4 760.5 373.2C761.9 374.0 763.4 374.9 764.8 375.7C766.3 376.5 767.7 377.3 769.2 378.2C770.6 379.0 772.1 379.8 773.5 380.7C775.0 381.5 776.4 382.3 777.9 383.2C779.3 384.0 780.7 384.8 782.2 385.7C783.6 386.5 785.1 387.3 786.5 388.2C788.0 389.0 789.4 389.8 790.8 390.7C792.3 391.5 793.7 392.3 795.2 393.2C796.6 394.0 798.1 394.8 799.5 395.6C801.0 396.4 802.4 397.3 803.9 398.1C805.3 398.9 806.8 399.7 808.3 400.5C809.7 401.3 811.2 402.1 812.7 402.9C814.1 403.6 815.6 404.4 817.1 405.2C818.6 406.0 820.1 406.7 821.5 407.5C823.0 408.2 824.8 409.1 826.0 409.7C827.2 410.3 828.3 410.8 828.7 411.0" fill="none" stroke="#f0860f" stroke-width="2.15" stroke-linecap="round"/>
<path d="M202.7 271.7C203.5 271.8 206.0 272.2 207.7 272.4C209.3 272.6 211.0 272.8 212.6 273.0C214.3 273.2 215.9 273.4 217.6 273.7C219.2 273.9 220.9 274.1 222.5 274.3C224.2 274.6 225.8 274.8 227.5 275.0C229.1 275.3 230.8 275.5 232.4 275.8C234.1 276.0 235.7 276.3 237.4 276.5C239.0 276.8 240.7 277.0 242.3 277.3C244.0 277.5 245.6 277.8 247.3 278.1C248.9 278.3 250.5 278.6 252.2 278.9C253.8 279.1 255.5 279.4 257.1 279.7C258.8 280.0 260.4 280.2 262.0 280.5C263.7 280.8 265.3 281.1 267.0 281.4C268.6 281.7 270.3 282.0 271.9 282.3C273.5 282.6 275.2 282.9 276.8 283.2C278.5 283.5 280.1 283.8 281.7 284.1C283.4 284.4 285.0 284.7 286.6 285.0C288.3 285.3 289.9 285.6 291.6 286.0C293.2 286.3 294.8 286.6 296.5 286.9C298.1 287.2 299.7 287.6 301.4 287.9C303.0 288.2 304.6 288.5 306.3 288.9C307.9 289.2 309.5 289.5 311.2 289.9C312.8 290.2 314.4 290.5 316.1 290.9C317.7 291.2 319.3 291.6 321.0 291.9C322.6 292.2 324.2 292.6 325.8 292.9C327.5 293.3 329.1 293.6 330.7 294.0C332.4 294.3 334.0 294.7 335.6 295.0C337.3 295.4 338.9 295.8 340.5 296.1C342.1 296.5 343.8 296.8 345.4 297.2C347.0 297.6 348.6 297.9 350.3 298.3C351.9 298.6 353.5 299.0 355.1 299.4C356.8 299.7 358.4 300.1 360.0 300.5C361.7 300.8 363.3 301.2 364.9 301.6C366.5 302.0 368.1 302.3 369.8 302.7C371.4 303.1 373.0 303.5 374.6 303.8C376.3 304.2 377.9 304.6 379.5 305.0C381.1 305.3 382.8 305.7 384.4 306.1C386.0 306.5 387.6 306.9 389.3 307.2C390.9 307.6 392.5 308.0 394.1 308.4C395.7 308.8 397.4 309.1 399.0 309.5C400.6 309.9 402.2 310.3 403.9 310.7C405.5 311.1 407.1 311.5 408.7 311.8C410.3 312.2 412.0 312.6 413.6 313.0C415.2 313.4 416.8 313.8 418.4 314.2C420.1 314.5 421.7 314.9 423.3 315.3C424.9 315.7 426.5 316.1 428.2 316.5C429.8 316.9 431.4 317.3 433.0 317.7C434.7 318.0 436.3 318.4 437.9 318.8C439.5 319.2 441.1 319.6 442.8 320.0C444.4 320.4 446.0 320.8 447.6 321.2C449.2 321.5 450.9 321.9 452.5 322.3C454.1 322.7 455.7 323.1 457.3 323.5C459.0 323.9 460.6 324.3 462.2 324.6C463.8 325.0 465.4 325.4 467.1 325.8C468.7 326.2 470.3 326.6 471.9 327.0C473.6 327.3 475.2 327.7 476.8 328.1C478.4 328.5 480.0 328.9 481.7 329.3C483.3 329.6 484.9 330.0 486.5 330.4C488.2 330.8 489.8 331.2 491.4 331.5C493.0 331.9 494.6 332.3 496.3 332.7C497.9 333.0 499.5 333.4 501.1 333.8C502.8 334.2 504.4 334.5 506.0 334.9C507.6 335.3 509.3 335.7 510.9 336.0C512.5 336.4 514.1 336.8 515.8 337.1C517.4 337.5 519.0 337.9 520.6 338.2C522.3 338.6 523.9 339.0 525.5 339.3C527.2 339.7 528.8 340.0 530.4 340.4C532.0 340.8 533.7 341.1 535.3 341.5C536.9 341.8 538.5 342.2 540.2 342.5C541.8 342.9 543.4 343.2 545.1 343.6C546.7 343.9 548.3 344.3 550.0 344.6C551.6 345.0 553.2 345.3 554.8 345.7C556.5 346.0 558.1 346.3 559.7 346.7C561.4 347.0 563.0 347.4 564.6 347.7C566.3 348.0 567.9 348.4 569.5 348.7C571.2 349.0 572.8 349.3 574.4 349.7C576.1 350.0 577.7 350.3 579.3 350.6C581.0 351.0 582.6 351.3 584.3 351.6C585.9 351.9 587.5 352.3 589.2 352.6C590.8 352.9 592.4 353.2 594.1 353.5C595.7 353.8 597.3 354.2 599.0 354.5C600.6 354.8 602.2 355.1 603.9 355.4C605.5 355.7 607.2 356.0 608.8 356.4C610.4 356.7 612.1 357.0 613.7 357.3C615.3 357.6 617.0 357.9 618.6 358.2C620.3 358.6 621.9 358.9 623.5 359.2C625.2 359.5 626.8 359.8 628.4 360.1C630.1 360.4 631.7 360.8 633.3 361.1C635.0 361.4 636.6 361.7 638.3 362.0C639.9 362.3 641.5 362.7 643.2 363.0C644.8 363.3 646.4 363.6 648.1 363.9C649.7 364.2 651.3 364.6 653.0 364.9C654.6 365.2 656.2 365.5 657.9 365.9C659.5 366.2 661.2 366.5 662.8 366.9C664.4 367.2 666.1 367.5 667.7 367.8C669.3 368.2 671.0 368.5 672.6 368.8C674.2 369.2 675.8 369.5 677.5 369.9C679.1 370.2 680.7 370.5 682.4 370.9C684.0 371.2 685.6 371.6 687.3 371.9C688.9 372.3 690.5 372.6 692.1 373.0C693.8 373.4 695.4 373.7 697.0 374.1C698.7 374.4 700.3 374.8 701.9 375.2C703.5 375.5 705.2 375.9 706.8 376.3C708.4 376.7 710.0 377.0 711.7 377.4C713.3 377.8 714.9 378.2 716.5 378.6C718.1 379.0 719.8 379.3 721.4 379.7C723.0 380.1 724.6 380.5 726.2 380.9C727.9 381.3 729.5 381.7 731.1 382.2C732.7 382.6 734.3 383.0 735.9 383.4C737.5 383.8 739.2 384.2 740.8 384.7C742.4 385.1 744.0 385.5 745.6 386.0C747.2 386.4 748.8 386.8 750.4 387.3C752.0 387.7 753.6 388.2 755.2 388.6C756.8 389.1 758.4 389.5 760.0 390.0C761.6 390.5 763.2 390.9 764.8 391.4C766.4 391.9 768.0 392.4 769.6 392.8C771.2 393.3 772.8 393.8 774.4 394.3C776.0 394.8 777.6 395.3 779.2 395.8C780.8 396.3 782.4 396.8 783.9 397.3C785.5 397.8 787.1 398.4 788.7 398.9C790.3 399.4 791.8 399.9 793.4 400.5C795.0 401.0 796.6 401.6 798.2 402.1C799.7 402.7 801.3 403.2 802.9 403.8C804.4 404.3 806.0 404.9 807.6 405.5C809.1 406.0 810.7 406.6 812.3 407.2C813.8 407.8 815.4 408.4 816.9 409.0C818.5 409.6 820.7 410.4 821.6 410.8C822.5 411.1 822.4 411.1 822.5 411.1" fill="none" stroke="#f0860f" stroke-width="2.15" stroke-linecap="round"/>
<path d="M292.1 126.3L275.3 143.9" stroke="#3c3c3c" stroke-width="0.9" fill="none"/>
<path d="M366.8 148.1L341.0 174.9" stroke="#3c3c3c" stroke-width="0.9" fill="none"/>
<path d="M429.9 172.0L387.0 213.0" stroke="#3c3c3c" stroke-width="0.9" fill="none"/>
<path d="M515.3 208.2L459.6 260.3" stroke="#3c3c3c" stroke-width="0.9" fill="none"/>
<path d="M595.5 251.1L539.1 305.5" stroke="#3c3c3c" stroke-width="0.9" fill="none"/>
<path d="M698.7 285.1L620.2 359.0" stroke="#3c3c3c" stroke-width="0.9" fill="none"/>
<text transform="translate(304.10 122.50) scale(1.1500 1)" font-size="13.80" text-anchor="middle" fill="#181818" stroke="#181818" stroke-width="0.3" font-weight="normal">1600W</text>
<text transform="translate(369.95 144.40) scale(1.1500 1)" font-size="13.80" text-anchor="middle" fill="#181818" stroke="#181818" stroke-width="0.3" font-weight="normal">1400W</text>
<text transform="translate(438.70 168.90) scale(1.1500 1)" font-size="13.80" text-anchor="middle" fill="#181818" stroke="#181818" stroke-width="0.3" font-weight="normal">1200W</text>
<text transform="translate(523.45 205.20) scale(1.1500 1)" font-size="13.80" text-anchor="middle" fill="#181818" stroke="#181818" stroke-width="0.3" font-weight="normal">1000W</text>
<text transform="translate(598.05 247.80) scale(1.1500 1)" font-size="13.80" text-anchor="middle" fill="#181818" stroke="#181818" stroke-width="0.3" font-weight="normal">800W</text>
<text transform="translate(697.30 279.60) scale(1.1500 1)" font-size="13.80" text-anchor="middle" fill="#181818" stroke="#181818" stroke-width="0.3" font-weight="normal">600W</text>
<text transform="translate(743.22 118.90) scale(1.109 1)" font-size="22.90" fill="#0d9868" font-weight="bold">4</text><text transform="translate(758.12 118.90) scale(1.028 1)" font-size="22.90" fill="#0d9868" font-weight="bold">S</text><text transform="translate(772.87 118.90) scale(1.270 1)" font-size="22.90" fill="#0d9868" font-weight="bold">W</text><text transform="translate(799.80 118.90)" font-size="22.90" fill="#0d9868" font-weight="bold">1</text><text transform="translate(813.32 118.90) scale(1.083 1)" font-size="22.90" fill="#0d9868" font-weight="bold">.</text><text transform="translate(821.00 118.90)" font-size="22.90" fill="#0d9868" font-weight="bold">1</text><text transform="translate(833.92 116.10) scale(1.427 1)" font-size="22.90" fill="#0d9868" font-weight="bold">-</text><text transform="translate(846.10 118.90)" font-size="22.90" fill="#0d9868" font-weight="bold">1</text><text transform="translate(860.12 118.90) scale(1.083 1)" font-size="22.90" fill="#0d9868" font-weight="bold">.</text><text transform="translate(867.90 118.90)" font-size="22.90" fill="#0d9868" font-weight="bold">1</text><text transform="translate(881.50 118.90) scale(1.5 1)" font-size="22.90" fill="#0d9868" font-weight="bold">/</text><text transform="translate(891.51 118.90) scale(1.116 1)" font-size="22.90" fill="#0d9868" font-weight="bold">3</text><text transform="translate(904.64 118.90) scale(1.182 1)" font-size="22.90" fill="#0d9868" font-weight="bold">7</text><text transform="translate(919.32 118.90) scale(1.304 1)" font-size="22.90" fill="#0d9868" font-weight="bold">0</text>
<g stroke="#b8b8b8" stroke-width="1" fill="none"><path d="M185.5 563.0V893.0"/><path d="M244.5 563.0V893.0"/><path d="M303.5 563.0V893.0"/><path d="M362.5 563.0V893.0"/><path d="M420.5 563.0V893.0"/><path d="M479.5 563.0V893.0"/><path d="M538.5 563.0V893.0"/><path d="M597.5 563.0V893.0"/><path d="M656.5 563.0V893.0"/><path d="M714.5 563.0V893.0"/><path d="M773.5 563.0V853.0"/><path d="M831.5 563.0V853.0"/><path d="M890.5 563.0V853.0"/><path d="M949.5 563.0V893.0"/><path d="M185.0 563.5H950.0"/><path d="M185.0 604.5H950.0"/><path d="M185.0 645.5H950.0"/><path d="M185.0 686.5H950.0"/><path d="M185.0 728.5H950.0"/><path d="M185.0 769.5H950.0"/><path d="M185.0 811.5H950.0"/><path d="M185.0 852.5H950.0"/><path d="M185.0 892.5H950.0"/></g>
<text transform="translate(177.20 571.40) scale(1.1500 1)" font-size="13.80" text-anchor="end" fill="#181818" stroke="#181818" stroke-width="0.3" font-weight="normal">400</text>
<text transform="translate(177.20 612.80) scale(1.1500 1)" font-size="13.80" text-anchor="end" fill="#181818" stroke="#181818" stroke-width="0.3" font-weight="normal">350</text>
<text transform="translate(177.20 653.80) scale(1.1500 1)" font-size="13.80" text-anchor="end" fill="#181818" stroke="#181818" stroke-width="0.3" font-weight="normal">300</text>
<text transform="translate(177.20 695.00) scale(1.1500 1)" font-size="13.80" text-anchor="end" fill="#181818" stroke="#181818" stroke-width="0.3" font-weight="normal">250</text>
<text transform="translate(177.20 735.60) scale(1.1500 1)" font-size="13.80" text-anchor="end" fill="#181818" stroke="#181818" stroke-width="0.3" font-weight="normal">200</text>
<text transform="translate(177.20 775.90) scale(1.1500 1)" font-size="13.80" text-anchor="end" fill="#181818" stroke="#181818" stroke-width="0.3" font-weight="normal">150</text>
<text transform="translate(177.20 816.70) scale(1.1500 1)" font-size="13.80" text-anchor="end" fill="#181818" stroke="#181818" stroke-width="0.3" font-weight="normal">100</text>
<text transform="translate(177.20 858.00) scale(1.1500 1)" font-size="13.80" text-anchor="end" fill="#181818" stroke="#181818" stroke-width="0.3" font-weight="normal">50</text>
<text transform="translate(177.20 898.90) scale(1.1500 1)" font-size="13.80" text-anchor="end" fill="#181818" stroke="#181818" stroke-width="0.3" font-weight="normal">0</text>
<text transform="translate(110.50 568.60) scale(1.1500 1)" font-size="13.80" text-anchor="start" fill="#181818" stroke="#181818" stroke-width="0.3" font-weight="normal">(</text>
<text transform="translate(118.30 568.90) scale(1.1500 1)" font-size="13.80" text-anchor="start" fill="#181818" stroke="#181818" stroke-width="0.3" font-weight="normal">m</text>
<text transform="translate(134.30 568.60) scale(1.1500 1)" font-size="13.80" text-anchor="start" fill="#181818" stroke="#181818" stroke-width="0.3" font-weight="normal">)</text>
<text transform="translate(188.00 912.20) scale(1.1500 1)" font-size="13.80" text-anchor="middle" fill="#181818" stroke="#181818" stroke-width="0.3" font-weight="normal">0</text>
<text transform="translate(245.30 912.20) scale(1.1500 1)" font-size="13.80" text-anchor="middle" fill="#181818" stroke="#181818" stroke-width="0.3" font-weight="normal">5</text>
<text transform="translate(304.10 912.20) scale(1.1500 1)" font-size="13.80" text-anchor="middle" fill="#181818" stroke="#181818" stroke-width="0.3" font-weight="normal">10</text>
<text transform="translate(362.80 912.20) scale(1.1500 1)" font-size="13.80" text-anchor="middle" fill="#181818" stroke="#181818" stroke-width="0.3" font-weight="normal">15</text>
<text transform="translate(421.50 912.20) scale(1.1500 1)" font-size="13.80" text-anchor="middle" fill="#181818" stroke="#181818" stroke-width="0.3" font-weight="normal">20</text>
<text transform="translate(480.20 912.20) scale(1.1500 1)" font-size="13.80" text-anchor="middle" fill="#181818" stroke="#181818" stroke-width="0.3" font-weight="normal">25</text>
<text transform="translate(538.90 912.20) scale(1.1500 1)" font-size="13.80" text-anchor="middle" fill="#181818" stroke="#181818" stroke-width="0.3" font-weight="normal">30</text>
<text transform="translate(597.70 912.20) scale(1.1500 1)" font-size="13.80" text-anchor="middle" fill="#181818" stroke="#181818" stroke-width="0.3" font-weight="normal">35</text>
<text transform="translate(656.60 912.20) scale(1.1500 1)" font-size="13.80" text-anchor="middle" fill="#181818" stroke="#181818" stroke-width="0.3" font-weight="normal">40</text>
<text transform="translate(715.30 912.20) scale(1.1500 1)" font-size="13.80" text-anchor="middle" fill="#181818" stroke="#181818" stroke-width="0.3" font-weight="normal">45</text>
<text transform="translate(773.80 912.20) scale(1.1500 1)" font-size="13.80" text-anchor="middle" fill="#181818" stroke="#181818" stroke-width="0.3" font-weight="normal">50</text>
<text transform="translate(832.20 912.20) scale(1.1500 1)" font-size="13.80" text-anchor="middle" fill="#181818" stroke="#181818" stroke-width="0.3" font-weight="normal">55</text>
<text transform="translate(930.20 912.20) scale(1.1500 1)" font-size="13.80" text-anchor="start" fill="#181818" stroke="#181818" stroke-width="0.3" font-weight="normal">l/min</text>
<g stroke="#c4c4c4" stroke-width="1" fill="none"><path d="M185 923.5H950.5"/>
<path d="M185.5 923.5V930.6"/>
<path d="M283.5 923.5V930.6"/>
<path d="M381.5 923.5V930.6"/>
<path d="M479.5 923.5V930.6"/>
<path d="M577.5 923.5V930.6"/>
<path d="M675.5 923.5V930.6"/>
<path d="M774.5 923.5V930.6"/>
</g>
<text transform="translate(192.80 953.30) scale(1.1500 1)" font-size="13.80" text-anchor="middle" fill="#181818" stroke="#181818" stroke-width="0.3" font-weight="normal">0</text>
<text transform="translate(283.83 953.30) scale(1.1500 1)" font-size="13.80" text-anchor="middle" fill="#181818" stroke="#181818" stroke-width="0.3" font-weight="normal">0.5</text>
<text transform="translate(381.87 953.30) scale(1.1500 1)" font-size="13.80" text-anchor="middle" fill="#181818" stroke="#181818" stroke-width="0.3" font-weight="normal">1.0</text>
<text transform="translate(479.90 953.30) scale(1.1500 1)" font-size="13.80" text-anchor="middle" fill="#181818" stroke="#181818" stroke-width="0.3" font-weight="normal">1.5</text>
<text transform="translate(577.93 953.30) scale(1.1500 1)" font-size="13.80" text-anchor="middle" fill="#181818" stroke="#181818" stroke-width="0.3" font-weight="normal">2.0</text>
<text transform="translate(675.97 953.30) scale(1.1500 1)" font-size="13.80" text-anchor="middle" fill="#181818" stroke="#181818" stroke-width="0.3" font-weight="normal">2.5</text>
<text transform="translate(774.00 953.30) scale(1.1500 1)" font-size="13.80" text-anchor="middle" fill="#181818" stroke="#181818" stroke-width="0.3" font-weight="normal">3.0</text>
<text transform="translate(872.03 953.30) scale(1.1500 1)" font-size="13.80" text-anchor="middle" fill="#181818" stroke="#181818" stroke-width="0.3" font-weight="normal">3.5</text>
<text transform="translate(931.50 953.30) scale(1.1500 1)" font-size="13.80" text-anchor="start" fill="#181818" stroke="#181818" stroke-width="0.3" font-weight="normal">m</text>
<text transform="translate(944.50 946.50) scale(0.9500 1)" font-size="8.60" text-anchor="start" fill="#181818" stroke="#181818" stroke-width="0.3" font-weight="normal">3</text>
<text transform="translate(950.50 953.30) scale(1.1500 1)" font-size="13.80" text-anchor="start" fill="#181818" stroke="#181818" stroke-width="0.3" font-weight="normal">/h</text>
<text x="535.4 552.1" y="977.8" font-size="13.3" font-weight="bold" fill="#f0860f">流量</text>
<path d="M573.7 968.2L586 972.7L573.7 977.2Z" fill="#f0860f"/>
<path d="M124.6 708.7L130.1 720.6H119.4Z" fill="#f0860f"/>
<text x="118 118" y="742.6 760.3" font-size="13.2" font-weight="bold" fill="#f0860f">扬程</text>
<path d="M185.8 626.8C186.6 627.1 189.0 627.7 190.6 628.1C192.3 628.5 193.9 628.9 195.5 629.3C197.1 629.7 198.7 630.1 200.3 630.5C202.0 631.0 203.6 631.4 205.2 631.8C206.8 632.2 208.4 632.6 210.0 633.0C211.7 633.4 213.3 633.8 214.9 634.2C216.5 634.6 218.1 635.0 219.7 635.4C221.4 635.8 223.0 636.2 224.6 636.6C226.2 637.0 227.8 637.4 229.5 637.7C231.1 638.1 232.7 638.5 234.3 638.9C235.9 639.3 237.6 639.7 239.2 640.1C240.8 640.5 242.4 640.9 244.0 641.3C245.7 641.6 247.3 642.0 248.9 642.4C250.5 642.8 252.1 643.2 253.8 643.6C255.4 644.0 257.0 644.3 258.6 644.7C260.3 645.1 261.9 645.5 263.5 645.9C265.1 646.2 266.8 646.6 268.4 647.0C270.0 647.4 271.6 647.7 273.2 648.1C274.9 648.5 276.5 648.9 278.1 649.2C279.7 649.6 281.4 650.0 283.0 650.4C284.6 650.7 286.2 651.1 287.9 651.5C289.5 651.8 291.1 652.2 292.7 652.6C294.4 653.0 296.0 653.3 297.6 653.7C299.2 654.1 300.9 654.4 302.5 654.8C304.1 655.2 305.7 655.5 307.4 655.9C309.0 656.3 310.6 656.6 312.3 657.0C313.9 657.3 315.5 657.7 317.1 658.1C318.8 658.4 320.4 658.8 322.0 659.2C323.6 659.5 325.3 659.9 326.9 660.2C328.5 660.6 330.2 661.0 331.8 661.3C333.4 661.7 335.0 662.0 336.7 662.4C338.3 662.8 339.9 663.1 341.5 663.5C343.2 663.8 344.8 664.2 346.4 664.5C348.1 664.9 349.7 665.2 351.3 665.6C352.9 666.0 354.6 666.3 356.2 666.7C357.8 667.0 359.5 667.4 361.1 667.7C362.7 668.1 364.3 668.4 366.0 668.8C367.6 669.1 369.2 669.5 370.9 669.8C372.5 670.2 374.1 670.6 375.7 670.9C377.4 671.3 379.0 671.6 380.6 672.0C382.3 672.3 383.9 672.7 385.5 673.0C387.1 673.4 388.8 673.7 390.4 674.1C392.0 674.4 393.7 674.8 395.3 675.1C396.9 675.5 398.6 675.8 400.2 676.2C401.8 676.5 403.4 676.9 405.1 677.2C406.7 677.6 408.3 677.9 410.0 678.3C411.6 678.6 413.2 679.0 414.8 679.3C416.5 679.7 418.1 680.0 419.7 680.4C421.4 680.7 423.0 681.1 424.6 681.4C426.3 681.8 427.9 682.1 429.5 682.5C431.1 682.8 432.8 683.2 434.4 683.5C436.0 683.9 437.7 684.2 439.3 684.6C440.9 684.9 442.6 685.3 444.2 685.6C445.8 686.0 447.4 686.3 449.1 686.7C450.7 687.0 452.3 687.4 454.0 687.7C455.6 688.1 457.2 688.4 458.8 688.8C460.5 689.2 462.1 689.5 463.7 689.9C465.4 690.2 467.0 690.6 468.6 690.9C470.2 691.3 471.9 691.6 473.5 692.0C475.1 692.4 476.7 692.7 478.4 693.1C480.0 693.4 481.6 693.8 483.3 694.2C484.9 694.5 486.5 694.9 488.1 695.3C489.8 695.6 491.4 696.0 493.0 696.4C494.6 696.7 496.3 697.1 497.9 697.5C499.5 697.8 501.1 698.2 502.8 698.6C504.4 698.9 506.0 699.3 507.6 699.7C509.3 700.1 510.9 700.4 512.5 700.8C514.1 701.2 515.8 701.6 517.4 701.9C519.0 702.3 520.6 702.7 522.2 703.1C523.9 703.5 525.5 703.9 527.1 704.2C528.7 704.6 530.4 705.0 532.0 705.4C533.6 705.8 535.2 706.2 536.8 706.6C538.5 707.0 540.1 707.4 541.7 707.8C543.3 708.1 544.9 708.5 546.6 708.9C548.2 709.3 549.8 709.7 551.4 710.1C553.0 710.6 554.6 711.0 556.3 711.4C557.9 711.8 559.5 712.2 561.1 712.6C562.7 713.0 564.3 713.4 565.9 713.8C567.6 714.2 569.2 714.7 570.8 715.1C572.4 715.5 574.0 715.9 575.6 716.4C577.2 716.8 578.8 717.2 580.5 717.6C582.1 718.1 583.7 718.5 585.3 718.9C586.9 719.4 588.5 719.8 590.1 720.2C591.7 720.7 593.3 721.1 594.9 721.6C596.5 722.0 598.1 722.5 599.8 722.9C601.4 723.3 603.0 723.8 604.6 724.3C606.2 724.7 607.8 725.2 609.4 725.6C611.0 726.1 612.6 726.5 614.2 727.0C615.8 727.5 617.4 727.9 619.0 728.4C620.6 728.9 622.2 729.4 623.8 729.8C625.4 730.3 627.0 730.8 628.6 731.3C630.2 731.8 631.7 732.2 633.3 732.7C634.9 733.2 636.5 733.7 638.1 734.2C639.7 734.7 641.3 735.2 642.9 735.7C644.5 736.2 646.1 736.7 647.7 737.2C649.2 737.7 650.8 738.2 652.4 738.7C654.0 739.2 655.6 739.8 657.2 740.3C658.8 740.8 660.3 741.3 661.9 741.8C663.5 742.4 665.1 742.9 666.7 743.4C668.2 744.0 669.8 744.5 671.4 745.0C673.0 745.6 674.5 746.1 676.1 746.7C677.7 747.2 679.3 747.8 680.8 748.3C682.4 748.9 684.0 749.4 685.6 750.0C687.1 750.6 688.7 751.1 690.3 751.7C691.8 752.2 693.4 752.8 695.0 753.4C696.5 754.0 698.1 754.5 699.6 755.1C701.2 755.7 702.8 756.3 704.3 756.9C705.9 757.5 707.4 758.1 709.0 758.7C710.6 759.3 712.1 759.9 713.7 760.5C715.2 761.1 716.8 761.7 718.3 762.4C719.8 763.0 721.4 763.6 722.9 764.3C724.4 764.9 726.0 765.6 727.5 766.3C729.0 766.9 730.6 767.6 732.1 768.3C733.6 769.0 735.1 769.7 736.6 770.3C738.1 771.0 739.7 771.7 741.2 772.4C742.7 773.2 744.2 773.9 745.7 774.6C747.2 775.3 748.7 776.0 750.2 776.8C751.7 777.5 753.2 778.3 754.6 779.0C756.1 779.8 757.6 780.6 759.1 781.4C760.5 782.2 762.0 783.0 763.4 783.8C764.9 784.6 766.3 785.4 767.8 786.3C769.2 787.1 770.6 788.0 772.0 788.9C773.4 789.8 774.8 790.7 776.2 791.7C777.6 792.6 778.9 793.6 780.3 794.6C781.6 795.6 782.9 796.6 784.2 797.6C785.6 798.6 786.9 799.7 788.1 800.7C789.4 801.8 790.7 802.9 791.9 804.0C793.2 805.1 794.4 806.2 795.6 807.4C796.8 808.6 797.9 809.8 799.0 811.0C800.1 812.2 801.2 813.5 802.2 814.8C803.3 816.1 804.2 817.5 805.2 818.8C806.2 820.2 807.1 821.6 808.0 822.9C809.0 824.3 809.9 825.7 810.7 827.2C811.6 828.6 812.5 830.0 813.3 831.5C814.1 832.9 814.9 834.4 815.7 835.9C816.4 837.3 817.1 838.8 817.9 840.3C818.6 841.8 819.3 843.4 819.9 844.9C820.6 846.4 821.2 848.0 821.8 849.5C822.4 851.1 823.0 852.6 823.5 854.2C824.0 855.8 824.5 857.4 824.9 859.0C825.3 860.6 825.7 862.2 826.1 863.8C826.5 865.5 826.9 867.1 827.2 868.7C827.6 870.3 827.9 872.0 828.3 873.6C828.6 875.2 829.1 877.7 829.3 878.5" fill="none" stroke="#0d9868" stroke-width="2.15" stroke-linecap="round"/>
<path d="M185.8 653.5C186.6 653.7 189.0 654.3 190.6 654.8C192.2 655.2 193.9 655.6 195.5 656.0C197.1 656.5 198.7 656.9 200.3 657.3C201.9 657.7 203.5 658.1 205.2 658.5C206.8 659.0 208.4 659.4 210.0 659.8C211.6 660.2 213.2 660.6 214.8 661.0C216.5 661.4 218.1 661.8 219.7 662.2C221.3 662.6 222.9 663.0 224.5 663.4C226.2 663.8 227.8 664.2 229.4 664.6C231.0 665.0 232.6 665.4 234.3 665.8C235.9 666.2 237.5 666.6 239.1 667.0C240.7 667.4 242.4 667.8 244.0 668.1C245.6 668.5 247.2 668.9 248.8 669.3C250.5 669.7 252.1 670.1 253.7 670.4C255.3 670.8 257.0 671.2 258.6 671.6C260.2 672.0 261.8 672.3 263.5 672.7C265.1 673.1 266.7 673.5 268.3 673.8C270.0 674.2 271.6 674.6 273.2 674.9C274.8 675.3 276.5 675.7 278.1 676.1C279.7 676.4 281.3 676.8 283.0 677.1C284.6 677.5 286.2 677.9 287.8 678.2C289.5 678.6 291.1 679.0 292.7 679.3C294.3 679.7 296.0 680.0 297.6 680.4C299.2 680.8 300.9 681.1 302.5 681.5C304.1 681.8 305.7 682.2 307.4 682.5C309.0 682.9 310.6 683.2 312.3 683.6C313.9 683.9 315.5 684.3 317.1 684.6C318.8 685.0 320.4 685.3 322.0 685.7C323.7 686.0 325.3 686.4 326.9 686.7C328.6 687.1 330.2 687.4 331.8 687.7C333.5 688.1 335.1 688.4 336.7 688.8C338.3 689.1 340.0 689.4 341.6 689.8C343.2 690.1 344.9 690.5 346.5 690.8C348.1 691.1 349.8 691.5 351.4 691.8C353.0 692.1 354.7 692.5 356.3 692.8C357.9 693.1 359.6 693.5 361.2 693.8C362.8 694.1 364.5 694.5 366.1 694.8C367.7 695.1 369.4 695.5 371.0 695.8C372.6 696.1 374.3 696.5 375.9 696.8C377.5 697.1 379.2 697.4 380.8 697.8C382.4 698.1 384.1 698.4 385.7 698.8C387.3 699.1 389.0 699.4 390.6 699.7C392.2 700.1 393.9 700.4 395.5 700.7C397.1 701.0 398.8 701.4 400.4 701.7C402.1 702.0 403.7 702.3 405.3 702.7C407.0 703.0 408.6 703.3 410.2 703.6C411.9 703.9 413.5 704.3 415.1 704.6C416.8 704.9 418.4 705.2 420.0 705.6C421.7 705.9 423.3 706.2 424.9 706.5C426.6 706.8 428.2 707.2 429.9 707.5C431.5 707.8 433.1 708.1 434.8 708.4C436.4 708.8 438.0 709.1 439.7 709.4C441.3 709.7 442.9 710.0 444.6 710.4C446.2 710.7 447.8 711.0 449.5 711.3C451.1 711.6 452.8 712.0 454.4 712.3C456.0 712.6 457.7 712.9 459.3 713.2C460.9 713.6 462.6 713.9 464.2 714.2C465.8 714.5 467.5 714.8 469.1 715.2C470.7 715.5 472.4 715.8 474.0 716.1C475.7 716.4 477.3 716.8 478.9 717.1C480.6 717.4 482.2 717.7 483.8 718.0C485.5 718.4 487.1 718.7 488.7 719.0C490.4 719.3 492.0 719.7 493.6 720.0C495.3 720.3 496.9 720.6 498.5 720.9C500.2 721.3 501.8 721.6 503.4 721.9C505.1 722.3 506.7 722.6 508.3 722.9C510.0 723.3 511.6 723.6 513.2 723.9C514.9 724.3 516.5 724.6 518.1 724.9C519.8 725.3 521.4 725.6 523.0 726.0C524.7 726.3 526.3 726.7 527.9 727.0C529.6 727.4 531.2 727.7 532.8 728.1C534.4 728.4 536.1 728.8 537.7 729.1C539.3 729.5 540.9 729.9 542.6 730.2C544.2 730.6 545.8 731.0 547.4 731.4C549.1 731.7 550.7 732.1 552.3 732.5C553.9 732.9 555.6 733.3 557.2 733.7C558.8 734.1 560.4 734.5 562.0 734.9C563.6 735.3 565.3 735.7 566.9 736.1C568.5 736.5 570.1 736.9 571.7 737.3C573.3 737.7 574.9 738.2 576.6 738.6C578.2 739.0 579.8 739.5 581.4 739.9C583.0 740.3 584.6 740.8 586.2 741.2C587.8 741.7 589.4 742.1 591.0 742.6C592.6 743.1 594.2 743.5 595.8 744.0C597.4 744.5 599.0 745.0 600.6 745.5C602.2 745.9 603.8 746.4 605.4 746.9C607.0 747.4 608.6 747.9 610.1 748.4C611.7 749.0 613.3 749.5 614.9 750.0C616.5 750.5 618.1 751.1 619.6 751.6C621.2 752.1 622.8 752.7 624.4 753.2C625.9 753.8 627.5 754.3 629.1 754.9C630.6 755.5 632.2 756.0 633.8 756.6C635.3 757.2 636.9 757.8 638.4 758.4C640.0 759.0 641.6 759.6 643.1 760.2C644.7 760.8 646.2 761.4 647.8 762.0C649.3 762.6 650.8 763.3 652.4 763.9C653.9 764.5 655.5 765.2 657.0 765.8C658.5 766.5 660.1 767.2 661.6 767.8C663.1 768.5 664.6 769.2 666.2 769.9C667.7 770.5 669.2 771.2 670.7 771.9C672.2 772.6 673.7 773.3 675.2 774.0C676.7 774.8 678.2 775.5 679.7 776.2C681.2 776.9 682.7 777.7 684.2 778.4C685.7 779.2 687.2 779.9 688.7 780.7C690.2 781.4 691.6 782.2 693.1 783.0C694.6 783.8 696.1 784.6 697.5 785.3C699.0 786.1 700.5 786.9 701.9 787.7C703.4 788.5 704.8 789.4 706.3 790.2C707.7 791.0 709.2 791.8 710.6 792.7C712.0 793.5 713.5 794.4 714.9 795.2C716.3 796.1 717.8 796.9 719.2 797.8C720.6 798.7 722.1 799.5 723.5 800.4C724.9 801.3 726.3 802.2 727.7 803.1C729.1 804.0 730.5 804.9 731.9 805.8C733.3 806.7 734.7 807.7 736.0 808.6C737.4 809.6 738.8 810.5 740.1 811.5C741.4 812.5 742.7 813.5 744.0 814.6C745.3 815.6 746.6 816.7 747.9 817.7C749.2 818.8 750.4 819.9 751.7 821.0C752.9 822.1 754.2 823.2 755.4 824.4C756.6 825.5 757.8 826.6 759.0 827.8C760.2 829.0 761.4 830.1 762.6 831.3C763.8 832.5 764.9 833.7 766.1 834.9C767.2 836.1 768.4 837.3 769.5 838.5C770.7 839.7 771.8 841.0 772.9 842.2C774.0 843.4 775.2 844.7 776.3 845.9C777.4 847.1 778.5 848.4 779.6 849.6C780.7 850.9 781.9 852.1 782.9 853.4C784.0 854.6 785.1 855.9 786.2 857.2C787.2 858.5 788.3 859.8 789.3 861.1C790.4 862.4 791.4 863.7 792.4 865.0C793.4 866.3 794.4 867.7 795.4 869.0C796.3 870.4 797.3 871.7 798.3 873.1C799.2 874.5 800.2 875.8 801.1 877.2C802.0 878.6 803.0 880.0 803.9 881.3C804.9 882.7 806.0 884.3 806.8 885.4C807.6 886.6 808.5 887.8 808.8 888.3" fill="none" stroke="#0d9868" stroke-width="2.15" stroke-linecap="round"/>
<path d="M185.8 686.5C186.6 686.8 189.0 687.4 190.6 687.8C192.3 688.2 193.9 688.6 195.5 689.0C197.1 689.4 198.7 689.8 200.3 690.2C202.0 690.7 203.6 691.1 205.2 691.5C206.8 691.9 208.4 692.3 210.0 692.7C211.7 693.1 213.3 693.5 214.9 693.9C216.5 694.3 218.1 694.7 219.7 695.1C221.4 695.5 223.0 695.9 224.6 696.3C226.2 696.7 227.8 697.1 229.5 697.5C231.1 697.9 232.7 698.3 234.3 698.7C235.9 699.1 237.5 699.4 239.2 699.8C240.8 700.2 242.4 700.6 244.0 701.0C245.7 701.4 247.3 701.8 248.9 702.2C250.5 702.6 252.1 703.0 253.8 703.3C255.4 703.7 257.0 704.1 258.6 704.5C260.2 704.9 261.9 705.3 263.5 705.6C265.1 706.0 266.7 706.4 268.4 706.8C270.0 707.2 271.6 707.5 273.2 707.9C274.8 708.3 276.5 708.7 278.1 709.1C279.7 709.4 281.3 709.8 283.0 710.2C284.6 710.6 286.2 710.9 287.8 711.3C289.5 711.7 291.1 712.1 292.7 712.4C294.3 712.8 296.0 713.2 297.6 713.6C299.2 713.9 300.8 714.3 302.5 714.7C304.1 715.0 305.7 715.4 307.3 715.8C309.0 716.1 310.6 716.5 312.2 716.9C313.8 717.2 315.5 717.6 317.1 718.0C318.7 718.3 320.3 718.7 322.0 719.1C323.6 719.4 325.2 719.8 326.8 720.2C328.5 720.5 330.1 720.9 331.7 721.3C333.3 721.6 335.0 722.0 336.6 722.3C338.2 722.7 339.9 723.1 341.5 723.4C343.1 723.8 344.7 724.1 346.4 724.5C348.0 724.9 349.6 725.2 351.2 725.6C352.9 725.9 354.5 726.3 356.1 726.7C357.8 727.0 359.4 727.4 361.0 727.7C362.6 728.1 364.3 728.4 365.9 728.8C367.5 729.2 369.2 729.5 370.8 729.9C372.4 730.2 374.0 730.6 375.7 730.9C377.3 731.3 378.9 731.6 380.6 732.0C382.2 732.3 383.8 732.7 385.4 733.0C387.1 733.4 388.7 733.7 390.3 734.1C392.0 734.5 393.6 734.8 395.2 735.2C396.8 735.5 398.5 735.9 400.1 736.2C401.7 736.6 403.4 736.9 405.0 737.3C406.6 737.6 408.3 738.0 409.9 738.3C411.5 738.7 413.1 739.0 414.8 739.4C416.4 739.7 418.0 740.1 419.7 740.4C421.3 740.8 422.9 741.1 424.6 741.5C426.2 741.8 427.8 742.1 429.4 742.5C431.1 742.8 432.7 743.2 434.3 743.5C436.0 743.9 437.6 744.2 439.2 744.6C440.8 744.9 442.5 745.3 444.1 745.6C445.7 746.0 447.4 746.3 449.0 746.7C450.6 747.0 452.3 747.4 453.9 747.7C455.5 748.1 457.1 748.4 458.8 748.8C460.4 749.1 462.0 749.4 463.7 749.8C465.3 750.1 466.9 750.5 468.6 750.8C470.2 751.2 471.8 751.5 473.4 751.9C475.1 752.2 476.7 752.6 478.3 752.9C480.0 753.3 481.6 753.6 483.2 754.0C484.9 754.3 486.5 754.7 488.1 755.0C489.7 755.4 491.4 755.7 493.0 756.1C494.6 756.4 496.3 756.8 497.9 757.1C499.5 757.5 501.2 757.8 502.8 758.1C504.4 758.5 506.0 758.8 507.7 759.2C509.3 759.5 510.9 759.9 512.6 760.2C514.2 760.6 515.8 760.9 517.5 761.3C519.1 761.6 520.7 762.0 522.3 762.3C524.0 762.7 525.6 763.0 527.2 763.4C528.9 763.7 530.5 764.1 532.1 764.4C533.8 764.8 535.4 765.1 537.0 765.5C538.6 765.8 540.3 766.2 541.9 766.5C543.5 766.9 545.2 767.2 546.8 767.6C548.4 767.9 550.1 768.2 551.7 768.6C553.3 768.9 554.9 769.3 556.6 769.6C558.2 770.0 559.8 770.3 561.5 770.6C563.1 771.0 564.7 771.3 566.4 771.6C568.0 772.0 569.6 772.3 571.3 772.6C572.9 773.0 574.5 773.3 576.2 773.6C577.8 773.9 579.4 774.3 581.1 774.6C582.7 774.9 584.4 775.2 586.0 775.5C587.6 775.9 589.3 776.2 590.9 776.5C592.5 776.8 594.2 777.1 595.8 777.4C597.5 777.7 599.1 778.0 600.7 778.3C602.4 778.6 604.0 778.9 605.6 779.2C607.3 779.5 608.9 779.8 610.6 780.1C612.2 780.4 613.8 780.7 615.5 781.0C617.1 781.3 618.8 781.6 620.4 781.9C622.0 782.2 623.7 782.5 625.3 782.8C627.0 783.1 628.6 783.4 630.2 783.7C631.9 784.0 633.5 784.4 635.1 784.7C636.8 785.0 638.4 785.3 640.0 785.7C641.7 786.0 643.3 786.4 644.9 786.7C646.6 787.1 648.2 787.4 649.8 787.8C651.4 788.2 653.1 788.6 654.7 788.9C656.3 789.3 657.9 789.8 659.5 790.2C661.1 790.6 662.7 791.0 664.4 791.5C666.0 791.9 667.6 792.4 669.2 792.9C670.7 793.4 672.3 793.8 673.9 794.4C675.5 794.9 677.1 795.4 678.7 796.0C680.2 796.5 681.8 797.1 683.4 797.6C684.9 798.2 686.5 798.8 688.0 799.5C689.6 800.1 691.1 800.7 692.6 801.4C694.2 802.0 695.7 802.7 697.2 803.4C698.7 804.1 700.2 804.8 701.7 805.6C703.2 806.3 704.7 807.1 706.2 807.9C707.6 808.6 709.1 809.4 710.5 810.2C712.0 811.1 713.4 811.9 714.9 812.7C716.3 813.6 717.8 814.4 719.2 815.3C720.6 816.1 722.1 817.0 723.5 817.9C724.9 818.7 726.3 819.6 727.7 820.5C729.1 821.4 730.5 822.3 731.9 823.2C733.3 824.1 734.7 825.0 736.1 826.0C737.4 826.9 738.8 827.9 740.1 828.9C741.5 829.9 742.8 830.9 744.1 831.9C745.5 832.9 746.8 834.0 748.0 835.1C749.3 836.1 750.6 837.2 751.8 838.3C753.0 839.5 754.2 840.6 755.4 841.8C756.6 842.9 757.7 844.1 758.9 845.4C760.0 846.6 761.1 847.8 762.2 849.1C763.3 850.3 764.4 851.6 765.5 852.9C766.5 854.2 767.6 855.5 768.6 856.8C769.6 858.1 770.6 859.5 771.6 860.8C772.5 862.2 773.5 863.5 774.4 864.9C775.4 866.3 776.3 867.7 777.2 869.1C778.1 870.5 779.0 871.9 779.8 873.3C780.7 874.8 781.6 876.2 782.4 877.6C783.2 879.1 784.0 880.5 784.9 882.0C785.7 883.4 786.6 885.3 787.2 886.4C787.8 887.5 788.2 888.2 788.4 888.6" fill="none" stroke="#0d9868" stroke-width="2.15" stroke-linecap="round"/>
<path d="M185.8 731.3C186.6 731.5 189.1 732.0 190.7 732.3C192.3 732.7 194.0 733.0 195.6 733.4C197.2 733.7 198.8 734.1 200.5 734.4C202.1 734.8 203.7 735.1 205.4 735.5C207.0 735.9 208.6 736.2 210.2 736.6C211.9 736.9 213.5 737.3 215.1 737.7C216.7 738.0 218.4 738.4 220.0 738.8C221.6 739.1 223.2 739.5 224.9 739.9C226.5 740.2 228.1 740.6 229.8 741.0C231.4 741.3 233.0 741.7 234.6 742.1C236.2 742.4 237.9 742.8 239.5 743.2C241.1 743.6 242.7 744.0 244.4 744.3C246.0 744.7 247.6 745.1 249.2 745.5C250.9 745.8 252.5 746.2 254.1 746.6C255.7 747.0 257.3 747.4 259.0 747.8C260.6 748.1 262.2 748.5 263.8 748.9C265.5 749.3 267.1 749.7 268.7 750.1C270.3 750.5 271.9 750.9 273.6 751.2C275.2 751.6 276.8 752.0 278.4 752.4C280.0 752.8 281.7 753.2 283.3 753.6C284.9 754.0 286.5 754.4 288.1 754.8C289.8 755.2 291.4 755.6 293.0 756.0C294.6 756.4 296.2 756.8 297.8 757.2C299.5 757.6 301.1 758.0 302.7 758.4C304.3 758.8 305.9 759.2 307.6 759.6C309.2 760.0 310.8 760.4 312.4 760.8C314.0 761.2 315.6 761.6 317.3 762.0C318.9 762.4 320.5 762.8 322.1 763.2C323.7 763.6 325.4 764.0 327.0 764.4C328.6 764.8 330.2 765.2 331.8 765.6C333.4 766.0 335.1 766.4 336.7 766.8C338.3 767.2 339.9 767.6 341.5 768.0C343.1 768.4 344.8 768.8 346.4 769.2C348.0 769.6 349.6 770.0 351.2 770.5C352.8 770.9 354.5 771.3 356.1 771.7C357.7 772.1 359.3 772.5 360.9 772.9C362.5 773.3 364.2 773.7 365.8 774.1C367.4 774.5 369.0 774.9 370.6 775.3C372.2 775.7 373.9 776.1 375.5 776.5C377.1 776.9 378.7 777.3 380.3 777.8C381.9 778.2 383.6 778.6 385.2 779.0C386.8 779.4 388.4 779.8 390.0 780.2C391.6 780.6 393.3 781.0 394.9 781.4C396.5 781.8 398.1 782.2 399.7 782.6C401.3 783.0 403.0 783.4 404.6 783.8C406.2 784.2 407.8 784.6 409.4 785.0C411.0 785.4 412.7 785.8 414.3 786.2C415.9 786.6 417.5 787.0 419.1 787.4C420.8 787.8 422.4 788.2 424.0 788.6C425.6 789.0 427.2 789.4 428.8 789.8C430.5 790.2 432.1 790.6 433.7 791.0C435.3 791.4 436.9 791.8 438.6 792.2C440.2 792.6 441.8 793.0 443.4 793.3C445.0 793.7 446.7 794.1 448.3 794.5C449.9 794.9 451.5 795.3 453.1 795.7C454.8 796.1 456.4 796.5 458.0 796.8C459.6 797.2 461.2 797.6 462.9 798.0C464.5 798.4 466.1 798.8 467.7 799.1C469.4 799.5 471.0 799.9 472.6 800.3C474.2 800.7 475.8 801.1 477.5 801.4C479.1 801.8 480.7 802.2 482.3 802.6C484.0 802.9 485.6 803.3 487.2 803.7C488.8 804.1 490.5 804.4 492.1 804.8C493.7 805.2 495.3 805.5 497.0 805.9C498.6 806.3 500.2 806.6 501.8 807.0C503.5 807.4 505.1 807.7 506.7 808.1C508.4 808.5 510.0 808.8 511.6 809.2C513.2 809.5 514.9 809.9 516.5 810.2C518.1 810.6 519.7 811.0 521.4 811.3C523.0 811.7 524.6 812.0 526.3 812.4C527.9 812.7 529.5 813.1 531.2 813.4C532.8 813.7 534.4 814.1 536.0 814.4C537.7 814.8 539.3 815.1 540.9 815.4C542.6 815.8 544.2 816.1 545.8 816.5C547.5 816.8 549.1 817.1 550.7 817.5C552.4 817.8 554.0 818.1 555.6 818.5C557.3 818.8 558.9 819.1 560.5 819.4C562.2 819.8 563.8 820.1 565.4 820.4C567.1 820.7 568.7 821.1 570.3 821.4C572.0 821.7 573.6 822.0 575.3 822.4C576.9 822.7 578.5 823.0 580.2 823.3C581.8 823.6 583.4 824.0 585.1 824.3C586.7 824.6 588.3 824.9 590.0 825.2C591.6 825.6 593.2 825.9 594.9 826.2C596.5 826.5 598.2 826.8 599.8 827.1C601.4 827.5 603.1 827.8 604.7 828.1C606.3 828.4 608.0 828.7 609.6 829.1C611.2 829.4 612.9 829.7 614.5 830.0C616.1 830.3 617.8 830.6 619.4 831.0C621.1 831.3 622.7 831.6 624.3 831.9C626.0 832.3 627.6 832.6 629.2 832.9C630.9 833.2 632.5 833.5 634.1 833.9C635.8 834.2 637.4 834.5 639.0 834.9C640.7 835.2 642.3 835.5 643.9 835.8C645.6 836.2 647.2 836.5 648.8 836.8C650.5 837.2 652.1 837.5 653.7 837.8C655.4 838.2 657.0 838.5 658.6 838.9C660.3 839.2 661.9 839.5 663.5 839.9C665.2 840.2 666.8 840.6 668.4 840.9C670.1 841.3 671.7 841.6 673.3 842.0C674.9 842.3 676.6 842.7 678.2 843.0C679.8 843.3 681.5 843.7 683.1 844.0C684.7 844.4 686.3 844.7 688.0 845.1C689.6 845.5 691.2 845.8 692.9 846.2C694.5 846.5 696.1 846.9 697.8 847.2C699.4 847.6 701.0 847.9 702.6 848.3C704.3 848.6 705.9 849.0 707.5 849.3C709.2 849.7 710.8 850.0 712.4 850.4C714.0 850.8 715.7 851.1 717.3 851.5C718.9 851.9 720.5 852.4 722.1 852.8C723.7 853.2 725.3 853.7 726.9 854.2C728.5 854.6 730.1 855.1 731.7 855.6C733.3 856.1 734.9 856.7 736.4 857.2C738.0 857.8 739.6 858.3 741.2 858.9C742.7 859.5 744.3 860.1 745.8 860.7C747.4 861.3 748.9 861.9 750.4 862.6C752.0 863.2 753.5 863.9 755.0 864.6C756.5 865.3 758.0 866.1 759.5 866.9C760.9 867.7 762.3 868.5 763.7 869.5C765.1 870.4 766.4 871.4 767.7 872.4C769.0 873.4 770.3 874.5 771.5 875.6C772.8 876.7 773.9 877.9 775.1 879.1C776.2 880.3 777.3 881.6 778.4 882.8C779.5 884.1 780.6 885.5 781.6 886.7C782.6 887.9 784.0 889.6 784.4 890.2" fill="none" stroke="#0d9868" stroke-width="2.15" stroke-linecap="round"/>
<path d="M185.8 632.8C186.6 633.1 189.0 633.9 190.5 634.4C192.1 634.9 193.7 635.4 195.3 636.0C196.9 636.5 198.5 637.0 200.0 637.5C201.6 638.0 203.2 638.5 204.8 639.0C206.4 639.5 208.0 640.0 209.6 640.5C211.2 641.0 212.8 641.5 214.4 642.0C215.9 642.5 217.5 643.0 219.1 643.5C220.7 644.0 222.3 644.4 223.9 644.9C225.5 645.4 227.1 645.9 228.7 646.3C230.3 646.8 231.9 647.3 233.5 647.7C235.1 648.2 236.7 648.7 238.3 649.1C239.9 649.6 241.5 650.0 243.1 650.5C244.7 650.9 246.3 651.4 248.0 651.8C249.6 652.3 251.2 652.7 252.8 653.1C254.4 653.6 256.0 654.0 257.6 654.4C259.2 654.9 260.8 655.3 262.4 655.7C264.0 656.2 265.7 656.6 267.3 657.0C268.9 657.4 270.5 657.8 272.1 658.2C273.7 658.7 275.3 659.1 277.0 659.5C278.6 659.9 280.2 660.3 281.8 660.7C283.4 661.1 285.0 661.5 286.7 661.9C288.3 662.3 289.9 662.7 291.5 663.1C293.1 663.4 294.8 663.8 296.4 664.2C298.0 664.6 299.6 665.0 301.3 665.4C302.9 665.7 304.5 666.1 306.1 666.5C307.8 666.9 309.4 667.2 311.0 667.6C312.6 668.0 314.3 668.3 315.9 668.7C317.5 669.1 319.1 669.4 320.8 669.8C322.4 670.1 324.0 670.5 325.6 670.8C327.3 671.2 328.9 671.5 330.5 671.9C332.2 672.2 333.8 672.6 335.4 672.9C337.1 673.3 338.7 673.6 340.3 673.9C342.0 674.3 343.6 674.6 345.2 675.0C346.9 675.3 348.5 675.6 350.1 676.0C351.8 676.3 353.4 676.6 355.0 676.9C356.7 677.3 358.3 677.6 359.9 677.9C361.6 678.2 363.2 678.6 364.8 678.9C366.5 679.2 368.1 679.5 369.7 679.8C371.4 680.1 373.0 680.4 374.7 680.8C376.3 681.1 377.9 681.4 379.6 681.7C381.2 682.0 382.8 682.3 384.5 682.6C386.1 682.9 387.8 683.2 389.4 683.5C391.0 683.8 392.7 684.1 394.3 684.5C395.9 684.8 397.6 685.1 399.2 685.4C400.9 685.7 402.5 686.0 404.1 686.3C405.8 686.6 407.4 686.9 409.1 687.2C410.7 687.5 412.3 687.8 414.0 688.1C415.6 688.4 417.3 688.7 418.9 689.0C420.5 689.3 422.2 689.6 423.8 689.9C425.5 690.2 427.1 690.5 428.7 690.8C430.4 691.0 432.0 691.3 433.7 691.6C435.3 691.9 436.9 692.2 438.6 692.5C440.2 692.8 441.9 693.1 443.5 693.4C445.1 693.7 446.8 694.0 448.4 694.3C450.1 694.6 451.7 694.9 453.3 695.2C455.0 695.6 456.6 695.9 458.2 696.2C459.9 696.5 461.5 696.8 463.2 697.1C464.8 697.4 466.4 697.7 468.1 698.0C469.7 698.3 471.4 698.6 473.0 698.9C474.6 699.2 476.3 699.5 477.9 699.8C479.5 700.2 481.2 700.5 482.8 700.8C484.5 701.1 486.1 701.4 487.7 701.7C489.4 702.1 491.0 702.4 492.6 702.7C494.3 703.0 495.9 703.3 497.5 703.7C499.2 704.0 500.8 704.3 502.4 704.6C504.1 705.0 505.7 705.3 507.3 705.6C509.0 705.9 510.6 706.3 512.2 706.6C513.9 706.9 515.5 707.3 517.1 707.6C518.8 708.0 520.4 708.3 522.0 708.6C523.7 709.0 525.3 709.3 526.9 709.7C528.6 710.0 530.2 710.4 531.8 710.7C533.4 711.1 535.1 711.4 536.7 711.8C538.3 712.1 540.0 712.5 541.6 712.9C543.2 713.2 544.8 713.6 546.5 713.9C548.1 714.3 549.7 714.7 551.3 715.1C553.0 715.4 554.6 715.8 556.2 716.2C557.8 716.6 559.5 716.9 561.1 717.3C562.7 717.7 564.3 718.1 565.9 718.5C567.6 718.9 569.2 719.3 570.8 719.7C572.4 720.1 574.0 720.5 575.7 720.9C577.3 721.3 578.9 721.7 580.5 722.1C582.1 722.5 583.7 722.9 585.3 723.3C587.0 723.7 588.6 724.1 590.2 724.6C591.8 725.0 593.4 725.4 595.0 725.9C596.6 726.3 598.2 726.7 599.9 727.2C601.5 727.6 603.1 728.0 604.7 728.5C606.3 728.9 607.9 729.4 609.5 729.8C611.1 730.3 612.7 730.7 614.3 731.2C615.9 731.7 617.5 732.1 619.1 732.6C620.7 733.1 622.3 733.5 623.9 734.0C625.5 734.5 627.1 735.0 628.7 735.5C630.3 736.0 631.9 736.5 633.4 737.0C635.0 737.4 636.6 738.0 638.2 738.5C639.8 739.0 641.4 739.5 643.0 740.0C644.6 740.5 646.1 741.0 647.7 741.6C649.3 742.1 650.9 742.6 652.5 743.2C654.0 743.7 655.6 744.3 657.2 744.8C658.7 745.4 660.3 745.9 661.9 746.5C663.5 747.1 665.0 747.6 666.6 748.2C668.1 748.8 669.7 749.4 671.3 749.9C672.8 750.5 674.4 751.1 675.9 751.7C677.5 752.3 679.1 752.9 680.6 753.5C682.2 754.2 683.7 754.8 685.2 755.4C686.8 756.0 688.3 756.7 689.9 757.3C691.4 757.9 692.9 758.6 694.5 759.2C696.0 759.9 697.6 760.5 699.1 761.2C700.6 761.9 702.1 762.5 703.7 763.2C705.2 763.9 706.7 764.6 708.2 765.3C709.7 766.0 711.2 766.7 712.7 767.4C714.2 768.1 715.7 768.8 717.2 769.6C718.7 770.3 720.2 771.1 721.7 771.9C723.1 772.7 724.6 773.5 726.0 774.3C727.5 775.1 728.9 776.0 730.4 776.8C731.8 777.6 733.3 778.5 734.7 779.4C736.1 780.2 737.5 781.1 738.9 782.0C740.3 782.9 741.7 783.8 743.1 784.7C744.5 785.6 745.9 786.6 747.2 787.5C748.6 788.5 750.0 789.5 751.3 790.4C752.7 791.4 754.0 792.4 755.4 793.3C756.8 794.3 758.1 795.2 759.5 796.2C760.9 797.1 762.3 798.0 763.7 799.0C765.0 799.9 766.4 800.8 767.8 801.7C769.2 802.6 770.6 803.6 772.0 804.5C773.4 805.4 774.8 806.3 776.1 807.3C777.5 808.2 778.9 809.2 780.2 810.2C781.6 811.1 782.9 812.1 784.3 813.1C785.6 814.1 787.0 815.1 788.3 816.1C789.6 817.1 790.9 818.2 792.2 819.2C793.5 820.3 794.8 821.4 796.0 822.5C797.2 823.6 798.4 824.8 799.5 826.0C800.6 827.2 801.7 828.4 802.8 829.7C803.8 831.0 804.8 832.4 805.8 833.7C806.7 835.1 807.7 836.5 808.5 837.9C809.4 839.3 810.2 840.7 811.0 842.2C811.8 843.7 812.5 845.2 813.2 846.7C813.9 848.2 814.5 849.8 815.1 851.3C815.7 852.9 816.2 854.5 816.7 856.0C817.2 857.6 817.6 859.2 818.0 860.9C818.4 862.5 818.8 864.1 819.1 865.7C819.5 867.3 819.8 869.0 820.1 870.6C820.4 872.3 820.7 873.9 820.9 875.5C821.2 877.2 821.4 878.8 821.7 880.5C821.9 882.2 822.2 884.6 822.3 885.5" fill="none" stroke="#f0860f" stroke-width="2.15" stroke-linecap="round"/>
<path d="M185.8 668.7C186.6 668.9 189.0 669.6 190.6 670.1C192.2 670.5 193.8 670.9 195.4 671.4C197.0 671.8 198.6 672.3 200.3 672.7C201.9 673.1 203.5 673.6 205.1 674.0C206.7 674.4 208.3 674.9 209.9 675.3C211.5 675.7 213.1 676.2 214.7 676.6C216.4 677.0 218.0 677.4 219.6 677.8C221.2 678.3 222.8 678.7 224.4 679.1C226.0 679.5 227.7 679.9 229.3 680.3C230.9 680.7 232.5 681.1 234.1 681.5C235.7 681.9 237.4 682.3 239.0 682.7C240.6 683.1 242.2 683.5 243.8 683.9C245.5 684.3 247.1 684.7 248.7 685.1C250.3 685.5 251.9 685.9 253.6 686.2C255.2 686.6 256.8 687.0 258.4 687.4C260.1 687.8 261.7 688.1 263.3 688.5C264.9 688.9 266.5 689.3 268.2 689.6C269.8 690.0 271.4 690.4 273.0 690.8C274.7 691.1 276.3 691.5 277.9 691.9C279.5 692.2 281.2 692.6 282.8 692.9C284.4 693.3 286.1 693.7 287.7 694.0C289.3 694.4 290.9 694.7 292.6 695.1C294.2 695.5 295.8 695.8 297.5 696.2C299.1 696.5 300.7 696.9 302.3 697.2C304.0 697.6 305.6 697.9 307.2 698.3C308.9 698.6 310.5 699.0 312.1 699.3C313.8 699.6 315.4 700.0 317.0 700.3C318.6 700.7 320.3 701.0 321.9 701.4C323.5 701.7 325.2 702.0 326.8 702.4C328.4 702.7 330.1 703.0 331.7 703.4C333.3 703.7 335.0 704.0 336.6 704.4C338.2 704.7 339.9 705.0 341.5 705.4C343.1 705.7 344.8 706.0 346.4 706.4C348.0 706.7 349.7 707.0 351.3 707.4C352.9 707.7 354.6 708.0 356.2 708.3C357.8 708.7 359.5 709.0 361.1 709.3C362.7 709.7 364.4 710.0 366.0 710.3C367.6 710.6 369.3 711.0 370.9 711.3C372.5 711.6 374.2 711.9 375.8 712.3C377.5 712.6 379.1 712.9 380.7 713.2C382.4 713.6 384.0 713.9 385.6 714.2C387.3 714.5 388.9 714.8 390.5 715.2C392.2 715.5 393.8 715.8 395.4 716.1C397.1 716.5 398.7 716.8 400.3 717.1C402.0 717.4 403.6 717.8 405.2 718.1C406.9 718.4 408.5 718.7 410.2 719.0C411.8 719.4 413.4 719.7 415.1 720.0C416.7 720.3 418.3 720.7 420.0 721.0C421.6 721.3 423.2 721.6 424.9 722.0C426.5 722.3 428.1 722.6 429.8 722.9C431.4 723.3 433.0 723.6 434.7 723.9C436.3 724.2 437.9 724.6 439.6 724.9C441.2 725.2 442.8 725.6 444.5 725.9C446.1 726.2 447.7 726.6 449.4 726.9C451.0 727.2 452.6 727.5 454.3 727.9C455.9 728.2 457.5 728.6 459.2 728.9C460.8 729.2 462.4 729.6 464.1 729.9C465.7 730.2 467.3 730.6 469.0 730.9C470.6 731.2 472.2 731.6 473.9 731.9C475.5 732.3 477.1 732.6 478.8 733.0C480.4 733.3 482.0 733.6 483.6 734.0C485.3 734.3 486.9 734.7 488.5 735.0C490.2 735.4 491.8 735.7 493.4 736.1C495.1 736.4 496.7 736.8 498.3 737.1C499.9 737.5 501.6 737.8 503.2 738.2C504.8 738.6 506.5 738.9 508.1 739.3C509.7 739.6 511.3 740.0 513.0 740.3C514.6 740.7 516.2 741.0 517.9 741.4C519.5 741.8 521.1 742.1 522.7 742.5C524.4 742.8 526.0 743.2 527.6 743.6C529.2 743.9 530.9 744.3 532.5 744.7C534.1 745.0 535.7 745.4 537.4 745.7C539.0 746.1 540.6 746.5 542.3 746.8C543.9 747.2 545.5 747.6 547.1 747.9C548.8 748.3 550.4 748.7 552.0 749.0C553.6 749.4 555.3 749.8 556.9 750.1C558.5 750.5 560.1 750.9 561.8 751.2C563.4 751.6 565.0 752.0 566.6 752.3C568.3 752.7 569.9 753.1 571.5 753.4C573.1 753.8 574.8 754.2 576.4 754.5C578.0 754.9 579.7 755.3 581.3 755.6C582.9 756.0 584.5 756.4 586.2 756.7C587.8 757.1 589.4 757.4 591.0 757.8C592.7 758.2 594.3 758.5 595.9 758.9C597.5 759.3 599.2 759.6 600.8 760.0C602.4 760.4 604.0 760.7 605.7 761.1C607.3 761.5 608.9 761.8 610.5 762.2C612.2 762.6 613.8 763.0 615.4 763.3C617.0 763.7 618.7 764.1 620.3 764.5C621.9 764.9 623.5 765.3 625.1 765.7C626.8 766.1 628.4 766.5 630.0 766.9C631.6 767.3 633.2 767.8 634.8 768.2C636.4 768.6 638.0 769.1 639.6 769.5C641.2 770.0 642.8 770.5 644.4 770.9C646.0 771.4 647.6 771.9 649.2 772.4C650.8 772.9 652.4 773.4 654.0 773.9C655.6 774.4 657.1 774.9 658.7 775.5C660.3 776.0 661.9 776.6 663.4 777.1C665.0 777.7 666.6 778.3 668.1 778.9C669.7 779.5 671.2 780.1 672.8 780.7C674.3 781.3 675.9 781.9 677.4 782.6C678.9 783.2 680.5 783.9 682.0 784.6C683.5 785.2 685.0 785.9 686.6 786.6C688.1 787.3 689.6 788.1 691.1 788.8C692.6 789.5 694.1 790.3 695.5 791.0C697.0 791.8 698.5 792.6 700.0 793.4C701.4 794.1 702.9 794.9 704.3 795.8C705.8 796.6 707.2 797.4 708.7 798.3C710.1 799.1 711.5 800.0 712.9 800.9C714.3 801.8 715.7 802.7 717.1 803.6C718.5 804.5 719.9 805.5 721.3 806.4C722.6 807.4 724.0 808.3 725.3 809.3C726.7 810.3 728.0 811.3 729.3 812.4C730.6 813.4 731.9 814.4 733.2 815.5C734.5 816.5 735.7 817.6 737.0 818.7C738.2 819.8 739.4 821.0 740.7 822.1C741.9 823.3 743.0 824.4 744.2 825.6C745.4 826.8 746.6 828.0 747.7 829.2C748.9 830.4 750.0 831.6 751.2 832.8C752.3 834.0 753.4 835.3 754.6 836.5C755.7 837.8 756.8 839.0 757.8 840.3C758.9 841.5 760.0 842.8 761.0 844.1C762.0 845.4 763.0 846.8 764.0 848.1C765.0 849.5 765.9 850.8 766.9 852.2C767.8 853.6 768.8 855.0 769.7 856.4C770.6 857.8 771.5 859.2 772.4 860.6C773.3 862.0 774.2 863.4 775.1 864.8C775.9 866.2 776.8 867.6 777.7 869.1C778.5 870.5 779.4 871.9 780.3 873.3C781.2 874.7 782.0 876.2 782.9 877.6C783.8 879.0 784.7 880.4 785.5 881.8C786.4 883.2 787.5 885.0 788.2 886.1C788.8 887.1 789.3 887.8 789.5 888.2" fill="none" stroke="#f0860f" stroke-width="2.15" stroke-linecap="round"/>
<path d="M185.8 710.6C186.6 710.8 189.0 711.3 190.7 711.7C192.3 712.1 193.9 712.4 195.5 712.8C197.2 713.2 198.8 713.6 200.4 713.9C202.0 714.3 203.7 714.7 205.3 715.0C206.9 715.4 208.5 715.8 210.2 716.1C211.8 716.5 213.4 716.9 215.1 717.2C216.7 717.6 218.3 718.0 219.9 718.3C221.6 718.7 223.2 719.0 224.8 719.4C226.4 719.8 228.1 720.1 229.7 720.5C231.3 720.8 233.0 721.2 234.6 721.6C236.2 721.9 237.8 722.3 239.5 722.6C241.1 723.0 242.7 723.3 244.3 723.7C246.0 724.0 247.6 724.4 249.2 724.7C250.9 725.1 252.5 725.5 254.1 725.8C255.8 726.2 257.4 726.5 259.0 726.9C260.6 727.2 262.3 727.6 263.9 727.9C265.5 728.3 267.2 728.6 268.8 728.9C270.4 729.3 272.0 729.6 273.7 730.0C275.3 730.3 276.9 730.7 278.6 731.0C280.2 731.4 281.8 731.7 283.5 732.1C285.1 732.4 286.7 732.8 288.4 733.1C290.0 733.4 291.6 733.8 293.2 734.1C294.9 734.5 296.5 734.8 298.1 735.2C299.8 735.5 301.4 735.9 303.0 736.2C304.7 736.5 306.3 736.9 307.9 737.2C309.6 737.6 311.2 737.9 312.8 738.2C314.5 738.6 316.1 738.9 317.7 739.3C319.3 739.6 321.0 740.0 322.6 740.3C324.2 740.6 325.9 741.0 327.5 741.3C329.1 741.7 330.8 742.0 332.4 742.3C334.0 742.7 335.7 743.0 337.3 743.4C338.9 743.7 340.6 744.1 342.2 744.4C343.8 744.7 345.4 745.1 347.1 745.4C348.7 745.8 350.3 746.1 352.0 746.4C353.6 746.8 355.2 747.1 356.9 747.5C358.5 747.8 360.1 748.2 361.8 748.5C363.4 748.8 365.0 749.2 366.6 749.5C368.3 749.9 369.9 750.2 371.5 750.6C373.2 750.9 374.8 751.2 376.4 751.6C378.1 751.9 379.7 752.3 381.3 752.6C383.0 753.0 384.6 753.3 386.2 753.7C387.8 754.0 389.5 754.4 391.1 754.7C392.7 755.0 394.4 755.4 396.0 755.7C397.6 756.1 399.3 756.4 400.9 756.8C402.5 757.1 404.1 757.5 405.8 757.8C407.4 758.2 409.0 758.5 410.7 758.9C412.3 759.2 413.9 759.6 415.6 759.9C417.2 760.3 418.8 760.7 420.4 761.0C422.1 761.4 423.7 761.7 425.3 762.1C427.0 762.4 428.6 762.8 430.2 763.1C431.8 763.5 433.5 763.9 435.1 764.2C436.7 764.6 438.3 764.9 440.0 765.3C441.6 765.7 443.2 766.0 444.9 766.4C446.5 766.7 448.1 767.1 449.7 767.5C451.4 767.8 453.0 768.2 454.6 768.6C456.2 768.9 457.9 769.3 459.5 769.7C461.1 770.0 462.7 770.4 464.4 770.8C466.0 771.1 467.6 771.5 469.2 771.9C470.9 772.3 472.5 772.6 474.1 773.0C475.7 773.4 477.4 773.8 479.0 774.1C480.6 774.5 482.2 774.9 483.9 775.3C485.5 775.6 487.1 776.0 488.7 776.4C490.3 776.8 492.0 777.2 493.6 777.6C495.2 777.9 496.8 778.3 498.5 778.7C500.1 779.1 501.7 779.5 503.3 779.9C504.9 780.3 506.6 780.7 508.2 781.0C509.8 781.4 511.4 781.8 513.0 782.2C514.7 782.6 516.3 783.0 517.9 783.4C519.5 783.8 521.1 784.2 522.7 784.6C524.4 785.0 526.0 785.4 527.6 785.8C529.2 786.2 530.8 786.6 532.4 787.0C534.1 787.4 535.7 787.9 537.3 788.3C538.9 788.7 540.5 789.1 542.1 789.5C543.8 789.9 545.4 790.3 547.0 790.7C548.6 791.1 550.2 791.6 551.8 792.0C553.4 792.4 555.1 792.8 556.7 793.2C558.3 793.6 559.9 794.0 561.5 794.5C563.1 794.9 564.7 795.3 566.4 795.7C568.0 796.1 569.6 796.5 571.2 796.9C572.8 797.3 574.4 797.7 576.1 798.1C577.7 798.5 579.3 798.9 580.9 799.3C582.5 799.7 584.2 800.1 585.8 800.5C587.4 800.9 589.0 801.3 590.6 801.6C592.3 802.0 593.9 802.4 595.5 802.8C597.1 803.1 598.8 803.5 600.4 803.9C602.0 804.2 603.6 804.6 605.3 804.9C606.9 805.3 608.5 805.6 610.2 806.0C611.8 806.3 613.4 806.6 615.1 807.0C616.7 807.3 618.3 807.6 620.0 807.9C621.6 808.3 623.2 808.6 624.9 808.9C626.5 809.2 628.2 809.5 629.8 809.8C631.4 810.1 633.1 810.4 634.7 810.7C636.3 811.0 638.0 811.3 639.6 811.6C641.3 811.9 642.9 812.2 644.5 812.5C646.2 812.8 647.8 813.1 649.5 813.4C651.1 813.7 652.7 814.0 654.4 814.3C656.0 814.6 657.7 814.9 659.3 815.2C660.9 815.5 662.6 815.8 664.2 816.1C665.9 816.5 667.5 816.8 669.1 817.1C670.8 817.4 672.4 817.7 674.0 818.1C675.7 818.4 677.3 818.7 678.9 819.1C680.6 819.4 682.2 819.8 683.8 820.1C685.4 820.5 687.1 820.8 688.7 821.2C690.3 821.6 691.9 822.0 693.6 822.4C695.2 822.8 696.8 823.2 698.4 823.6C700.0 824.0 701.6 824.4 703.2 824.8C704.9 825.3 706.5 825.7 708.1 826.2C709.7 826.6 711.3 827.1 712.8 827.6C714.4 828.1 716.0 828.6 717.6 829.2C719.2 829.7 720.7 830.3 722.3 830.9C723.8 831.5 725.4 832.2 726.9 832.8C728.5 833.5 730.0 834.1 731.5 834.8C733.0 835.5 734.5 836.2 736.0 836.9C737.5 837.7 739.0 838.4 740.4 839.2C741.9 840.0 743.4 840.8 744.8 841.6C746.3 842.4 747.8 843.3 749.2 844.1C750.6 844.9 752.1 845.7 753.5 846.6C754.9 847.5 756.4 848.3 757.7 849.3C759.0 850.2 760.3 851.2 761.5 852.3C762.7 853.4 763.7 854.7 764.8 855.9C765.9 857.2 766.9 858.6 767.9 859.9C768.8 861.3 769.8 862.7 770.7 864.1C771.7 865.5 772.6 866.9 773.5 868.3C774.4 869.7 775.3 871.1 776.2 872.5C777.1 873.9 777.9 875.3 778.8 876.8C779.7 878.2 780.5 879.6 781.4 881.1C782.2 882.5 783.1 883.9 783.9 885.4C784.8 886.8 786.0 889.0 786.4 889.7" fill="none" stroke="#f0860f" stroke-width="2.15" stroke-linecap="round"/>
<path d="M185.8 762.6C186.6 762.8 189.0 763.4 190.7 763.7C192.3 764.1 193.9 764.5 195.5 764.9C197.1 765.3 198.8 765.7 200.4 766.1C202.0 766.5 203.6 766.9 205.2 767.3C206.9 767.7 208.5 768.1 210.1 768.5C211.7 768.9 213.3 769.3 215.0 769.7C216.6 770.0 218.2 770.4 219.8 770.8C221.4 771.2 223.0 771.6 224.7 772.0C226.3 772.4 227.9 772.8 229.5 773.2C231.1 773.6 232.8 774.0 234.4 774.4C236.0 774.8 237.6 775.2 239.2 775.6C240.9 776.0 242.5 776.4 244.1 776.8C245.7 777.2 247.3 777.6 248.9 778.0C250.6 778.4 252.2 778.8 253.8 779.2C255.4 779.6 257.0 780.0 258.7 780.4C260.3 780.8 261.9 781.2 263.5 781.6C265.1 782.0 266.7 782.4 268.4 782.8C270.0 783.2 271.6 783.6 273.2 784.0C274.8 784.4 276.5 784.8 278.1 785.2C279.7 785.6 281.3 786.0 282.9 786.4C284.5 786.8 286.2 787.2 287.8 787.6C289.4 788.0 291.0 788.4 292.6 788.8C294.3 789.2 295.9 789.6 297.5 790.0C299.1 790.4 300.7 790.8 302.3 791.2C304.0 791.6 305.6 792.0 307.2 792.4C308.8 792.8 310.4 793.2 312.0 793.6C313.7 794.0 315.3 794.4 316.9 794.8C318.5 795.2 320.1 795.6 321.8 796.0C323.4 796.4 325.0 796.8 326.6 797.2C328.2 797.6 329.8 798.0 331.5 798.4C333.1 798.8 334.7 799.2 336.3 799.6C337.9 800.0 339.6 800.4 341.2 800.7C342.8 801.1 344.4 801.5 346.0 801.9C347.7 802.3 349.3 802.7 350.9 803.1C352.5 803.5 354.1 803.9 355.7 804.3C357.4 804.7 359.0 805.1 360.6 805.5C362.2 805.9 363.8 806.3 365.5 806.7C367.1 807.1 368.7 807.5 370.3 807.9C371.9 808.3 373.6 808.7 375.2 809.1C376.8 809.5 378.4 809.9 380.0 810.3C381.6 810.7 383.3 811.1 384.9 811.5C386.5 811.8 388.1 812.2 389.7 812.6C391.4 813.0 393.0 813.4 394.6 813.8C396.2 814.2 397.8 814.6 399.5 815.0C401.1 815.4 402.7 815.8 404.3 816.2C405.9 816.6 407.6 816.9 409.2 817.3C410.8 817.7 412.4 818.1 414.0 818.5C415.7 818.9 417.3 819.3 418.9 819.7C420.5 820.1 422.1 820.5 423.8 820.9C425.4 821.2 427.0 821.6 428.6 822.0C430.2 822.4 431.9 822.8 433.5 823.2C435.1 823.6 436.7 824.0 438.4 824.3C440.0 824.7 441.6 825.1 443.2 825.5C444.8 825.9 446.5 826.3 448.1 826.7C449.7 827.0 451.3 827.4 452.9 827.8C454.6 828.2 456.2 828.6 457.8 829.0C459.4 829.3 461.1 829.7 462.7 830.1C464.3 830.5 465.9 830.9 467.5 831.3C469.2 831.6 470.8 832.0 472.4 832.4C474.0 832.8 475.7 833.2 477.3 833.5C478.9 833.9 480.5 834.3 482.2 834.7C483.8 835.1 485.4 835.4 487.0 835.8C488.6 836.2 490.3 836.6 491.9 836.9C493.5 837.3 495.1 837.7 496.8 838.1C498.4 838.4 500.0 838.8 501.6 839.2C503.3 839.6 504.9 839.9 506.5 840.3C508.1 840.7 509.8 841.1 511.4 841.4C513.0 841.8 514.6 842.2 516.3 842.6C517.9 842.9 519.5 843.3 521.1 843.7C522.8 844.0 524.4 844.4 526.0 844.8C527.6 845.1 529.3 845.5 530.9 845.9C532.5 846.2 534.1 846.6 535.8 847.0C537.4 847.3 539.0 847.7 540.6 848.1C542.3 848.4 543.9 848.8 545.5 849.2C547.1 849.5 548.8 849.9 550.4 850.3C552.0 850.6 553.6 851.0 555.3 851.3C556.9 851.7 558.5 852.1 560.2 852.4C561.8 852.8 563.4 853.1 565.0 853.5C566.7 853.9 568.3 854.2 569.9 854.6C571.6 854.9 573.2 855.3 574.8 855.6C576.4 856.0 578.1 856.3 579.7 856.7C581.3 857.0 583.0 857.4 584.6 857.8C586.2 858.1 587.8 858.5 589.5 858.8C591.1 859.2 592.7 859.5 594.4 859.8C596.0 860.2 597.6 860.5 599.3 860.9C600.9 861.2 602.5 861.6 604.1 861.9C605.8 862.3 607.4 862.6 609.0 862.9C610.7 863.3 612.3 863.6 613.9 864.0C615.6 864.3 617.2 864.6 618.8 865.0C620.5 865.3 622.1 865.6 623.7 866.0C625.4 866.3 627.0 866.6 628.6 867.0C630.3 867.3 631.9 867.6 633.5 868.0C635.2 868.3 636.8 868.6 638.4 868.9C640.1 869.3 641.7 869.6 643.3 869.9C645.0 870.2 646.6 870.6 648.2 870.9C649.9 871.2 651.5 871.5 653.1 871.8C654.8 872.2 656.4 872.5 658.1 872.8C659.7 873.1 661.3 873.4 663.0 873.7C664.6 874.1 666.2 874.4 667.9 874.7C669.5 875.0 671.2 875.3 672.8 875.6C674.4 875.9 676.1 876.2 677.7 876.5C679.3 876.8 681.0 877.1 682.6 877.4C684.3 877.7 685.9 878.0 687.5 878.3C689.2 878.6 690.8 878.9 692.5 879.2C694.1 879.5 695.7 879.8 697.4 880.1C699.0 880.4 700.7 880.6 702.3 880.9C704.0 881.2 705.6 881.5 707.2 881.8C708.9 882.1 710.5 882.4 712.2 882.6C713.8 882.9 715.5 883.2 717.1 883.5C718.7 883.8 720.4 884.0 722.0 884.3C723.7 884.6 725.3 884.9 726.9 885.2C728.6 885.5 730.2 885.8 731.8 886.2C733.5 886.5 735.1 886.8 736.7 887.2C738.4 887.5 740.0 887.9 741.6 888.2C743.3 888.6 744.9 889.0 746.5 889.4C748.1 889.8 750.5 890.3 751.4 890.6C752.3 890.8 751.8 890.7 751.8 890.7" fill="none" stroke="#f0860f" stroke-width="2.15" stroke-linecap="round"/>
<path d="M313.1 612.0L285.1 650.3" stroke="#3c3c3c" stroke-width="0.9" fill="none"/>
<path d="M376.4 635.1L347.5 675.3" stroke="#3c3c3c" stroke-width="0.9" fill="none"/>
<path d="M448.2 652.6L410.8 703.8" stroke="#3c3c3c" stroke-width="0.9" fill="none"/>
<path d="M509.0 668.4L466.4 730.5" stroke="#3c3c3c" stroke-width="0.9" fill="none"/>
<path d="M569.4 684.8L514.0 759.9" stroke="#3c3c3c" stroke-width="0.9" fill="none"/>
<path d="M642.7 716.4L585.5 800.9" stroke="#3c3c3c" stroke-width="0.9" fill="none"/>
<path d="M715.4 732.7L656.2 838.5" stroke="#3c3c3c" stroke-width="0.9" fill="none"/>
<path d="M781.8 768.3L723.9 884.7" stroke="#3c3c3c" stroke-width="0.9" fill="none"/>
<text transform="translate(320.40 609.50) scale(1.1500 1)" font-size="13.80" text-anchor="middle" fill="#181818" stroke="#181818" stroke-width="0.3" font-weight="normal">2700W</text>
<text transform="translate(379.85 631.40) scale(1.1500 1)" font-size="13.80" text-anchor="middle" fill="#181818" stroke="#181818" stroke-width="0.3" font-weight="normal">2400W</text>
<text transform="translate(451.60 648.90) scale(1.1500 1)" font-size="13.80" text-anchor="middle" fill="#181818" stroke="#181818" stroke-width="0.3" font-weight="normal">2100W</text>
<text transform="translate(511.40 666.00) scale(1.1500 1)" font-size="13.80" text-anchor="middle" fill="#181818" stroke="#181818" stroke-width="0.3" font-weight="normal">1800W</text>
<text transform="translate(572.55 677.80) scale(1.1500 1)" font-size="13.80" text-anchor="middle" fill="#181818" stroke="#181818" stroke-width="0.3" font-weight="normal">1500W</text>
<text transform="translate(645.65 711.90) scale(1.1500 1)" font-size="13.80" text-anchor="middle" fill="#181818" stroke="#181818" stroke-width="0.3" font-weight="normal">1200W</text>
<text transform="translate(718.50 729.50) scale(1.1500 1)" font-size="13.80" text-anchor="middle" fill="#181818" stroke="#181818" stroke-width="0.3" font-weight="normal">900W</text>
<text transform="translate(782.95 764.80) scale(1.1500 1)" font-size="13.80" text-anchor="middle" fill="#181818" stroke="#181818" stroke-width="0.3" font-weight="normal">600W</text>
<text transform="translate(744.71 595.90) scale(1.117 1)" font-size="22.90" fill="#0d9868" font-weight="bold">4</text><text transform="translate(759.12 595.90) scale(1.028 1)" font-size="22.90" fill="#0d9868" font-weight="bold">S</text><text transform="translate(773.87 595.90) scale(1.270 1)" font-size="22.90" fill="#0d9868" font-weight="bold">W</text><text transform="translate(800.93 595.90) scale(1.097 1)" font-size="22.90" fill="#0d9868" font-weight="bold">2</text><text transform="translate(814.32 595.90) scale(1.083 1)" font-size="22.90" fill="#0d9868" font-weight="bold">.</text><text transform="translate(820.62 595.90) scale(1.107 1)" font-size="22.90" fill="#0d9868" font-weight="bold">2</text><text transform="translate(834.68 593.10) scale(1.479 1)" font-size="22.90" fill="#0d9868" font-weight="bold">-</text><text transform="translate(846.60 595.90) scale(1.151 1)" font-size="22.90" fill="#0d9868" font-weight="bold">3</text><text transform="translate(860.57 595.90) scale(1.114 1)" font-size="22.90" fill="#0d9868" font-weight="bold">.</text><text transform="translate(868.31 595.90) scale(1.116 1)" font-size="22.90" fill="#0d9868" font-weight="bold">3</text><text transform="translate(882.10 595.90) scale(1.5 1)" font-size="22.90" fill="#0d9868" font-weight="bold">/</text><text transform="translate(892.14 595.90) scale(1.072 1)" font-size="22.90" fill="#0d9868" font-weight="bold">3</text><text transform="translate(905.90 595.90)" font-size="22.90" fill="#0d9868" font-weight="bold">1</text><text transform="translate(918.89 595.90) scale(1.341 1)" font-size="22.90" fill="#0d9868" font-weight="bold">0</text>
</svg>
</body></html>
